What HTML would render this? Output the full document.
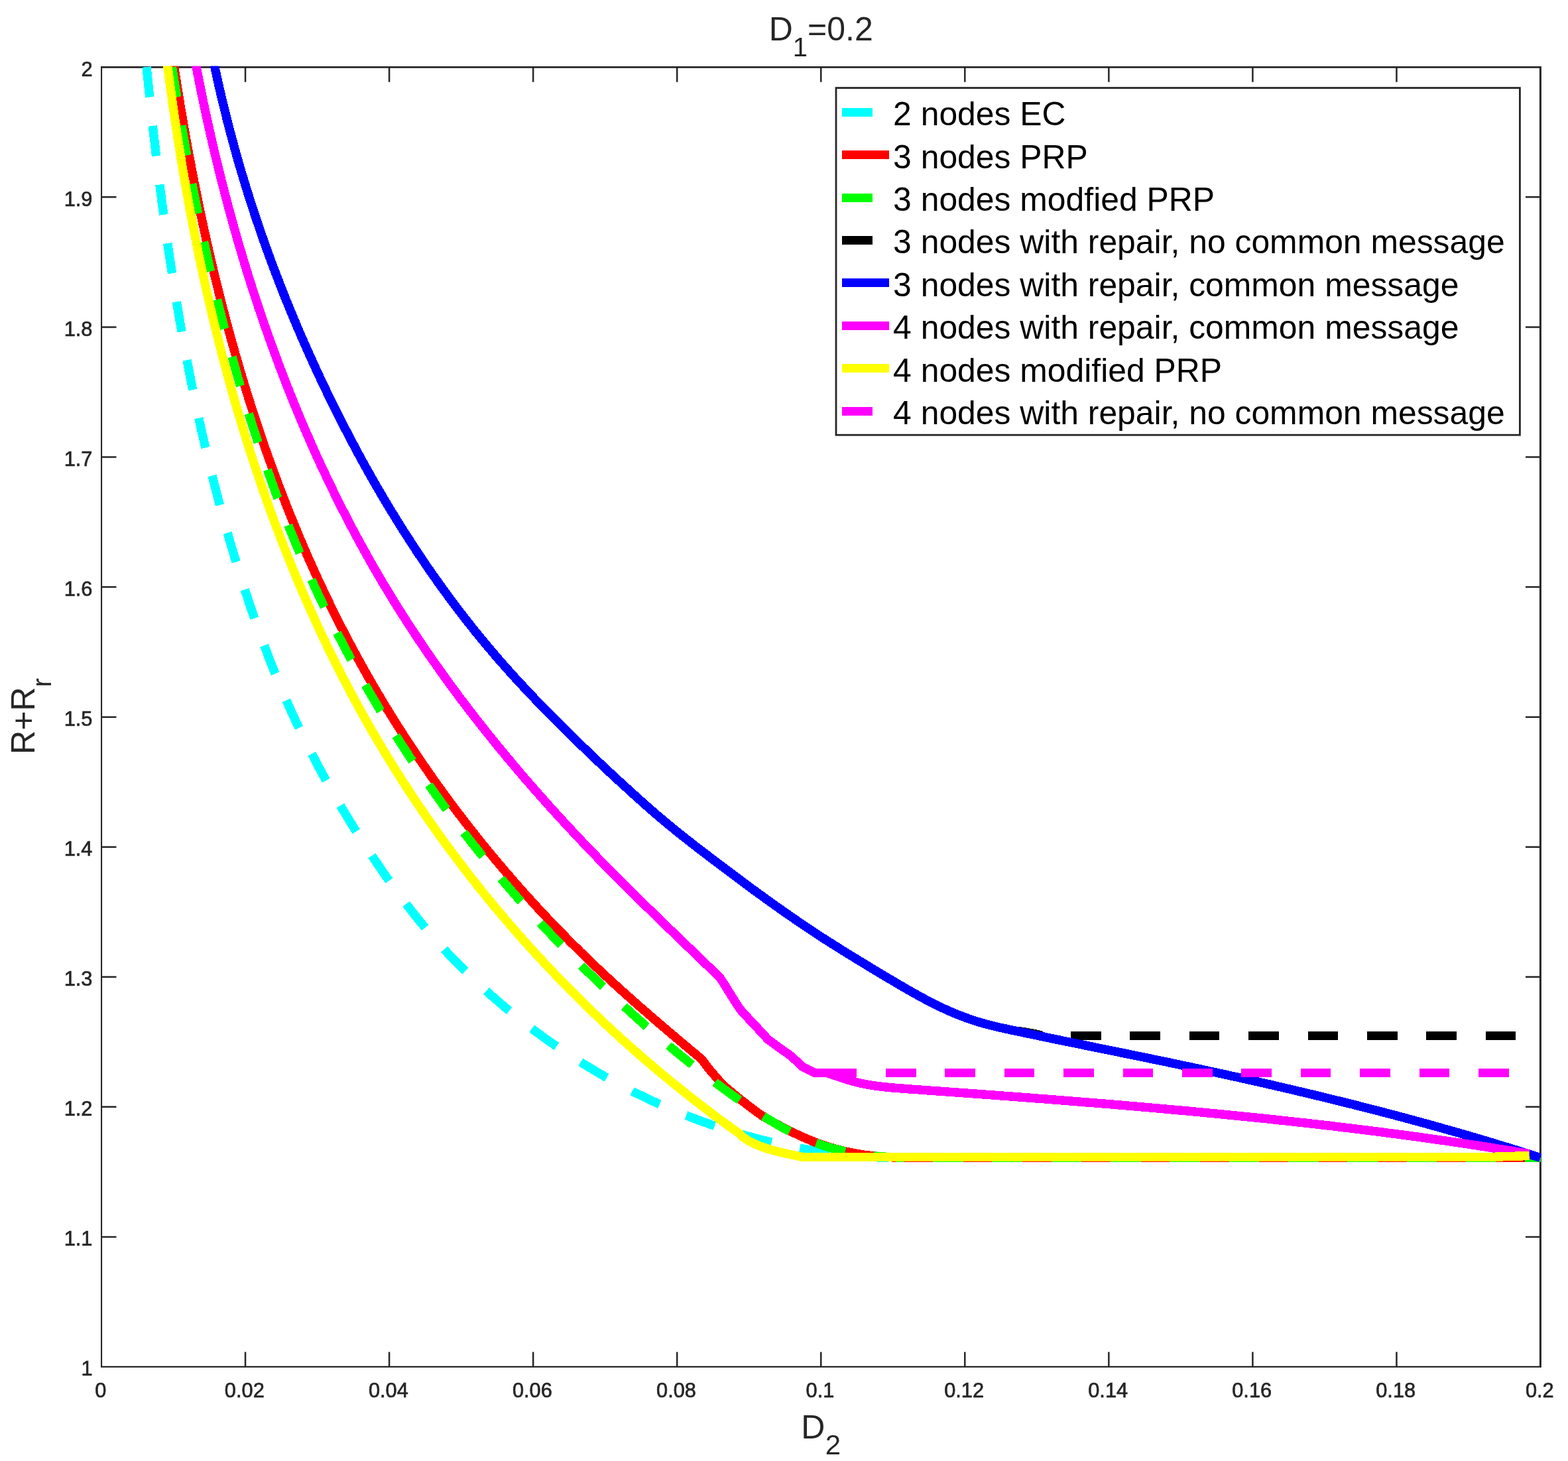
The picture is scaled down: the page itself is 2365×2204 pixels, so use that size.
<!DOCTYPE html>
<html lang="en"><head><meta charset="utf-8"><title>D1=0.2</title>
<style>html,body{margin:0;padding:0;background:#fff}body{width:2365px;height:2204px;overflow:hidden}svg{display:block}text{font-family:"Liberation Sans", Arial, Helvetica, sans-serif}.tk{font-size:30.8px;fill:#262626;stroke:#262626;stroke-width:0.7px}.lb{font-size:50px;fill:#262626}.lg{font-size:49.85px;fill:#000}.c{fill:none;stroke-width:13.4;stroke-linejoin:round;stroke-linecap:butt}</style></head><body>
<svg width="2365" height="2204" viewBox="0 0 2365 2204">
<rect x="0" y="0" width="2365" height="2204" fill="#ffffff"/>
<defs><clipPath id="cp"><rect x="152.0" y="99.8" width="2173.5" height="1963.7"/></clipPath></defs>
<g stroke="#262626" stroke-width="2.5" fill="none" stroke-linecap="butt">
<path stroke="none" fill="#262626" d="M152,100H2324.9V2063H152ZM154.1,102.7V2060.8H2321.9V102.7Z" fill-rule="evenodd"/>
<path d="M370.05,2062.00V2039.50M370.05,101.30V123.80M587.10,2062.00V2039.50M587.10,101.30V123.80M804.15,2062.00V2039.50M804.15,101.30V123.80M1021.20,2062.00V2039.50M1021.20,101.30V123.80M1238.25,2062.00V2039.50M1238.25,101.30V123.80M1455.30,2062.00V2039.50M1455.30,101.30V123.80M1672.35,2062.00V2039.50M1672.35,101.30V123.80M1889.40,2062.00V2039.50M1889.40,101.30V123.80M2106.45,2062.00V2039.50M2106.45,101.30V123.80M153.00,1865.93H175.50M2323.50,1865.93H2301.00M153.00,1669.86H175.50M2323.50,1669.86H2301.00M153.00,1473.79H175.50M2323.50,1473.79H2301.00M153.00,1277.72H175.50M2323.50,1277.72H2301.00M153.00,1081.65H175.50M2323.50,1081.65H2301.00M153.00,885.58H175.50M2323.50,885.58H2301.00M153.00,689.51H175.50M2323.50,689.51H2301.00M153.00,493.44H175.50M2323.50,493.44H2301.00M153.00,297.37H175.50M2323.50,297.37H2301.00"/>
</g>
<g clip-path="url(#cp)" shape-rendering="crispEdges">
<path class="c" shape-rendering="geometricPrecision" style="stroke-width:11.4px" stroke="#00ffff" stroke-dasharray="45.6 43.7" stroke-dashoffset="-40.0" d="M217.1,61.3 L221.1,101.1 L221.6,106.1 L222.1,111.1 L222.6,116.0 L223.1,121.0 L223.6,126.0 L224.1,131.0 L224.6,136.0 L225.1,140.9 L225.6,145.9 L226.2,150.9 L226.7,155.9 L227.2,160.9 L227.8,165.9 L228.3,170.8 L228.8,175.8 L229.4,180.8 L229.9,185.8 L230.5,190.7 L231.0,195.7 L231.6,200.7 L232.1,205.7 L232.7,210.6 L233.3,215.6 L233.9,220.6 L234.4,225.6 L235.0,230.5 L235.6,235.5 L236.2,240.5 L236.8,245.5 L237.4,250.4 L238.0,255.4 L238.6,260.4 L239.2,265.4 L239.8,270.3 L240.4,275.3 L241.1,280.3 L241.7,285.2 L242.3,290.2 L243.0,295.2 L243.6,300.1 L244.2,305.1 L244.9,310.1 L245.6,315.0 L246.2,320.0 L246.9,325.0 L247.6,329.9 L248.2,334.9 L248.9,339.8 L249.6,344.8 L250.3,349.8 L251.0,354.7 L251.7,359.7 L252.4,364.6 L253.1,369.6 L253.8,374.6 L254.6,379.5 L255.3,384.5 L256.0,389.4 L256.8,394.4 L257.5,399.3 L258.3,404.3 L259.0,409.2 L259.8,414.2 L260.6,419.1 L261.3,424.1 L262.1,429.0 L262.9,434.0 L263.7,438.9 L264.5,443.8 L265.3,448.8 L266.1,453.7 L266.9,458.7 L267.8,463.6 L268.6,468.6 L269.4,473.5 L270.3,478.4 L271.1,483.4 L272.0,488.3 L272.8,493.2 L273.7,498.2 L274.6,503.1 L275.5,508.0 L276.4,512.9 L277.2,517.9 L278.2,522.8 L279.1,527.7 L280.0,532.7 L280.9,537.6 L281.8,542.5 L282.8,547.4 L283.7,552.3 L284.7,557.2 L285.6,562.2 L286.6,567.1 L287.6,572.0 L288.5,576.9 L289.5,581.8 L290.5,586.7 L291.5,591.6 L292.5,596.5 L293.5,601.4 L294.6,606.3 L295.6,611.2 L296.6,616.1 L297.7,621.0 L298.7,625.9 L299.8,630.8 L300.9,635.7 L302.0,640.6 L303.0,645.5 L304.1,650.4 L305.2,655.3 L306.4,660.2 L307.5,665.0 L308.6,669.9 L309.7,674.8 L310.9,679.7 L312.0,684.5 L313.2,689.4 L314.4,694.3 L315.5,699.1 L316.7,704.0 L317.9,708.9 L319.1,713.7 L320.3,718.6 L321.5,723.5 L322.8,728.3 L324.0,733.2 L325.3,738.0 L326.5,742.9 L327.8,747.7 L329.1,752.6 L330.3,757.4 L331.6,762.2 L332.9,767.1 L334.2,771.9 L335.6,776.7 L336.9,781.6 L338.2,786.4 L339.6,791.2 L340.9,796.0 L342.3,800.9 L343.7,805.7 L345.0,810.5 L346.4,815.3 L347.8,820.1 L349.2,824.9 L350.7,829.7 L352.1,834.5 L353.5,839.3 L355.0,844.1 L356.4,848.9 L357.9,853.7 L359.4,858.5 L360.9,863.2 L362.4,868.0 L363.9,872.8 L365.4,877.6 L366.9,882.3 L368.5,887.1 L370.0,891.9 L371.6,896.6 L373.2,901.4 L374.7,906.1 L376.3,910.9 L377.9,915.6 L379.5,920.4 L381.2,925.1 L382.8,929.8 L384.4,934.6 L386.1,939.3 L387.8,944.0 L389.5,948.7 L391.1,953.4 L392.9,958.2 L394.6,962.9 L396.3,967.6 L398.0,972.3 L399.8,976.9 L401.6,981.6 L403.3,986.3 L405.1,991.0 L406.9,995.7 L408.8,1000.3 L410.6,1005.0 L412.4,1009.6 L414.3,1014.3 L416.2,1018.9 L418.1,1023.6 L420.0,1028.2 L421.9,1032.8 L423.8,1037.4 L425.8,1042.1 L427.7,1046.7 L429.7,1051.3 L431.7,1055.9 L433.7,1060.4 L435.7,1065.0 L437.8,1069.6 L439.8,1074.2 L441.9,1078.7 L444.0,1083.3 L446.1,1087.8 L448.2,1092.4 L450.4,1096.9 L452.5,1101.4 L454.7,1105.9 L456.9,1110.4 L459.1,1114.9 L461.3,1119.4 L463.6,1123.9 L465.8,1128.4 L468.1,1132.8 L470.4,1137.3 L472.6,1141.7 L475.0,1146.2 L477.3,1150.6 L479.6,1155.0 L482.0,1159.5 L484.4,1163.9 L486.8,1168.3 L489.2,1172.7 L491.6,1177.0 L494.0,1181.4 L496.5,1185.8 L498.9,1190.2 L501.4,1194.5 L503.9,1198.9 L506.4,1203.2 L508.9,1207.5 L511.4,1211.8 L514.0,1216.2 L516.5,1220.5 L519.1,1224.8 L521.7,1229.0 L524.3,1233.3 L526.9,1237.6 L529.5,1241.9 L532.2,1246.1 L534.8,1250.4 L537.5,1254.6 L540.2,1258.8 L542.9,1263.1 L545.6,1267.3 L548.3,1271.5 L551.0,1275.7 L553.7,1279.9 L556.5,1284.1 L559.3,1288.2 L562.0,1292.4 L564.8,1296.6 L567.6,1300.7 L570.4,1304.9 L573.3,1309.0 L576.1,1313.1 L578.9,1317.2 L581.8,1321.4 L584.7,1325.5 L587.6,1329.5 L590.5,1333.6 L593.4,1337.7 L596.3,1341.7 L599.3,1345.8 L602.3,1349.8 L605.3,1353.8 L608.3,1357.8 L611.3,1361.8 L614.3,1365.8 L617.4,1369.8 L620.4,1373.7 L623.5,1377.7 L626.7,1381.6 L629.8,1385.5 L632.9,1389.4 L636.1,1393.3 L639.3,1397.1 L642.5,1401.0 L645.8,1404.8 L649.0,1408.6 L652.3,1412.4 L655.6,1416.2 L658.9,1419.9 L662.2,1423.6 L665.6,1427.4 L669.0,1431.1 L672.4,1434.7 L675.8,1438.4 L679.2,1442.0 L682.7,1445.7 L686.2,1449.3 L689.7,1452.8 L693.2,1456.4 L696.7,1460.0 L700.3,1463.5 L703.8,1467.0 L707.4,1470.5 L711.0,1474.0 L714.6,1477.4 L718.3,1480.9 L721.9,1484.3 L725.6,1487.7 L729.3,1491.1 L733.0,1494.5 L736.7,1497.8 L740.5,1501.2 L744.2,1504.5 L748.0,1507.8 L751.8,1511.0 L755.6,1514.3 L759.4,1517.5 L763.2,1520.8 L767.1,1524.0 L771.0,1527.1 L774.8,1530.3 L778.7,1533.4 L782.7,1536.6 L786.6,1539.7 L790.5,1542.8 L794.5,1545.8 L798.5,1548.9 L802.5,1551.9 L806.5,1554.9 L810.5,1557.9 L814.5,1560.8 L818.6,1563.8 L822.6,1566.7 L826.7,1569.6 L830.8,1572.5 L834.9,1575.4 L839.0,1578.2 L843.2,1581.0 L847.3,1583.8 L851.5,1586.6 L855.7,1589.4 L859.9,1592.1 L864.1,1594.8 L868.3,1597.5 L872.5,1600.2 L876.8,1602.9 L881.0,1605.5 L885.3,1608.1 L889.6,1610.7 L893.9,1613.3 L898.2,1615.8 L902.5,1618.4 L906.8,1620.9 L911.2,1623.4 L915.5,1625.8 L919.9,1628.3 L924.3,1630.7 L928.7,1633.1 L933.1,1635.4 L937.5,1637.8 L942.0,1640.1 L946.4,1642.4 L950.9,1644.7 L955.3,1647.0 L959.8,1649.2 L964.3,1651.4 L968.8,1653.6 L973.3,1655.8 L977.8,1657.9 L982.4,1660.1 L986.9,1662.2 L991.5,1664.2 L996.1,1666.3 L1000.6,1668.3 L1005.2,1670.3 L1009.8,1672.3 L1014.4,1674.3 L1019.1,1676.2 L1023.7,1678.1 L1028.3,1680.0 L1033.0,1681.9 L1037.6,1683.7 L1042.3,1685.5 L1047.0,1687.3 L1051.7,1689.1 L1056.4,1690.8 L1061.1,1692.5 L1065.8,1694.2 L1070.5,1695.9 L1075.2,1697.5 L1080.0,1699.1 L1084.7,1700.7 L1089.5,1702.3 L1094.2,1703.8 L1099.0,1705.3 L1103.8,1706.8 L1108.6,1708.3 L1113.4,1709.7 L1118.2,1711.1 L1123.0,1712.5 L1127.8,1713.9 L1132.6,1715.2 L1137.5,1716.5 L1142.3,1717.8 L1147.2,1719.1 L1152.0,1720.3 L1156.9,1721.5 L1161.8,1722.7 L1166.6,1723.8 L1171.5,1724.9 L1176.4,1726.0 L1181.3,1727.1 L1186.2,1728.1 L1191.1,1729.1 L1196.0,1730.1 L1200.9,1731.1 L1205.8,1732.0 L1210.8,1732.9 L1215.7,1733.8 L1220.6,1734.6 L1225.6,1735.5 L1230.5,1736.2 L1235.5,1737.0 L1240.4,1737.7 L1245.4,1738.5 L1250.3,1739.1 L1255.3,1739.8 L1260.3,1740.4 L1265.3,1741.0 L1270.2,1741.6 L1275.2,1742.1 L1280.2,1742.6 L1285.2,1743.1 L1290.2,1743.5 L1295.2,1744.0 L1300.1,1744.4 L1305.1,1744.7 L1310.1,1745.0 L1315.1,1745.4 L1320.1,1745.6 L1325.1,1745.9 L1330.1,1746.1 L1362.0,1746.3 L2323.5,1746.3"/>
<path class="c" stroke="#00ffff" stroke-dasharray="45.6 43.7" stroke-dashoffset="-40.0" d="M217.1,61.3 L221.1,101.1 L221.6,106.1 L222.1,111.1 L222.6,116.0 L223.1,121.0 L223.6,126.0 L224.1,131.0 L224.6,136.0 L225.1,140.9 L225.6,145.9 L226.2,150.9 L226.7,155.9 L227.2,160.9 L227.8,165.9 L228.3,170.8 L228.8,175.8 L229.4,180.8 L229.9,185.8 L230.5,190.7 L231.0,195.7 L231.6,200.7 L232.1,205.7 L232.7,210.6 L233.3,215.6 L233.9,220.6 L234.4,225.6 L235.0,230.5 L235.6,235.5 L236.2,240.5 L236.8,245.5 L237.4,250.4 L238.0,255.4 L238.6,260.4 L239.2,265.4 L239.8,270.3 L240.4,275.3 L241.1,280.3 L241.7,285.2 L242.3,290.2 L243.0,295.2 L243.6,300.1 L244.2,305.1 L244.9,310.1 L245.6,315.0 L246.2,320.0 L246.9,325.0 L247.6,329.9 L248.2,334.9 L248.9,339.8 L249.6,344.8 L250.3,349.8 L251.0,354.7 L251.7,359.7 L252.4,364.6 L253.1,369.6 L253.8,374.6 L254.6,379.5 L255.3,384.5 L256.0,389.4 L256.8,394.4 L257.5,399.3 L258.3,404.3 L259.0,409.2 L259.8,414.2 L260.6,419.1 L261.3,424.1 L262.1,429.0 L262.9,434.0 L263.7,438.9 L264.5,443.8 L265.3,448.8 L266.1,453.7 L266.9,458.7 L267.8,463.6 L268.6,468.6 L269.4,473.5 L270.3,478.4 L271.1,483.4 L272.0,488.3 L272.8,493.2 L273.7,498.2 L274.6,503.1 L275.5,508.0 L276.4,512.9 L277.2,517.9 L278.2,522.8 L279.1,527.7 L280.0,532.7 L280.9,537.6 L281.8,542.5 L282.8,547.4 L283.7,552.3 L284.7,557.2 L285.6,562.2 L286.6,567.1 L287.6,572.0 L288.5,576.9 L289.5,581.8 L290.5,586.7 L291.5,591.6 L292.5,596.5 L293.5,601.4 L294.6,606.3 L295.6,611.2 L296.6,616.1 L297.7,621.0 L298.7,625.9 L299.8,630.8 L300.9,635.7 L302.0,640.6 L303.0,645.5 L304.1,650.4 L305.2,655.3 L306.4,660.2 L307.5,665.0 L308.6,669.9 L309.7,674.8 L310.9,679.7 L312.0,684.5 L313.2,689.4 L314.4,694.3 L315.5,699.1 L316.7,704.0 L317.9,708.9 L319.1,713.7 L320.3,718.6 L321.5,723.5 L322.8,728.3 L324.0,733.2 L325.3,738.0 L326.5,742.9 L327.8,747.7 L329.1,752.6 L330.3,757.4 L331.6,762.2 L332.9,767.1 L334.2,771.9 L335.6,776.7 L336.9,781.6 L338.2,786.4 L339.6,791.2 L340.9,796.0 L342.3,800.9 L343.7,805.7 L345.0,810.5 L346.4,815.3 L347.8,820.1 L349.2,824.9 L350.7,829.7 L352.1,834.5 L353.5,839.3 L355.0,844.1 L356.4,848.9 L357.9,853.7 L359.4,858.5 L360.9,863.2 L362.4,868.0 L363.9,872.8 L365.4,877.6 L366.9,882.3 L368.5,887.1 L370.0,891.9 L371.6,896.6 L373.2,901.4 L374.7,906.1 L376.3,910.9 L377.9,915.6 L379.5,920.4 L381.2,925.1 L382.8,929.8 L384.4,934.6 L386.1,939.3 L387.8,944.0 L389.5,948.7 L391.1,953.4 L392.9,958.2 L394.6,962.9 L396.3,967.6 L398.0,972.3 L399.8,976.9 L401.6,981.6 L403.3,986.3 L405.1,991.0 L406.9,995.7 L408.8,1000.3 L410.6,1005.0 L412.4,1009.6 L414.3,1014.3 L416.2,1018.9 L418.1,1023.6 L420.0,1028.2 L421.9,1032.8 L423.8,1037.4 L425.8,1042.1 L427.7,1046.7 L429.7,1051.3 L431.7,1055.9 L433.7,1060.4 L435.7,1065.0 L437.8,1069.6 L439.8,1074.2 L441.9,1078.7 L444.0,1083.3 L446.1,1087.8 L448.2,1092.4 L450.4,1096.9 L452.5,1101.4 L454.7,1105.9 L456.9,1110.4 L459.1,1114.9 L461.3,1119.4 L463.6,1123.9 L465.8,1128.4 L468.1,1132.8 L470.4,1137.3 L472.6,1141.7 L475.0,1146.2 L477.3,1150.6 L479.6,1155.0 L482.0,1159.5 L484.4,1163.9 L486.8,1168.3 L489.2,1172.7 L491.6,1177.0 L494.0,1181.4 L496.5,1185.8 L498.9,1190.2 L501.4,1194.5 L503.9,1198.9 L506.4,1203.2 L508.9,1207.5 L511.4,1211.8 L514.0,1216.2 L516.5,1220.5 L519.1,1224.8 L521.7,1229.0 L524.3,1233.3 L526.9,1237.6 L529.5,1241.9 L532.2,1246.1 L534.8,1250.4 L537.5,1254.6 L540.2,1258.8 L542.9,1263.1 L545.6,1267.3 L548.3,1271.5 L551.0,1275.7 L553.7,1279.9 L556.5,1284.1 L559.3,1288.2 L562.0,1292.4 L564.8,1296.6 L567.6,1300.7 L570.4,1304.9 L573.3,1309.0 L576.1,1313.1 L578.9,1317.2 L581.8,1321.4 L584.7,1325.5 L587.6,1329.5 L590.5,1333.6 L593.4,1337.7 L596.3,1341.7 L599.3,1345.8 L602.3,1349.8 L605.3,1353.8 L608.3,1357.8 L611.3,1361.8 L614.3,1365.8 L617.4,1369.8 L620.4,1373.7 L623.5,1377.7 L626.7,1381.6 L629.8,1385.5 L632.9,1389.4 L636.1,1393.3 L639.3,1397.1 L642.5,1401.0 L645.8,1404.8 L649.0,1408.6 L652.3,1412.4 L655.6,1416.2 L658.9,1419.9 L662.2,1423.6 L665.6,1427.4 L669.0,1431.1 L672.4,1434.7 L675.8,1438.4 L679.2,1442.0 L682.7,1445.7 L686.2,1449.3 L689.7,1452.8 L693.2,1456.4 L696.7,1460.0 L700.3,1463.5 L703.8,1467.0 L707.4,1470.5 L711.0,1474.0 L714.6,1477.4 L718.3,1480.9 L721.9,1484.3 L725.6,1487.7 L729.3,1491.1 L733.0,1494.5 L736.7,1497.8 L740.5,1501.2 L744.2,1504.5 L748.0,1507.8 L751.8,1511.0 L755.6,1514.3 L759.4,1517.5 L763.2,1520.8 L767.1,1524.0 L771.0,1527.1 L774.8,1530.3 L778.7,1533.4 L782.7,1536.6 L786.6,1539.7 L790.5,1542.8 L794.5,1545.8 L798.5,1548.9 L802.5,1551.9 L806.5,1554.9 L810.5,1557.9 L814.5,1560.8 L818.6,1563.8 L822.6,1566.7 L826.7,1569.6 L830.8,1572.5 L834.9,1575.4 L839.0,1578.2 L843.2,1581.0 L847.3,1583.8 L851.5,1586.6 L855.7,1589.4 L859.9,1592.1 L864.1,1594.8 L868.3,1597.5 L872.5,1600.2 L876.8,1602.9 L881.0,1605.5 L885.3,1608.1 L889.6,1610.7 L893.9,1613.3 L898.2,1615.8 L902.5,1618.4 L906.8,1620.9 L911.2,1623.4 L915.5,1625.8 L919.9,1628.3 L924.3,1630.7 L928.7,1633.1 L933.1,1635.4 L937.5,1637.8 L942.0,1640.1 L946.4,1642.4 L950.9,1644.7 L955.3,1647.0 L959.8,1649.2 L964.3,1651.4 L968.8,1653.6 L973.3,1655.8 L977.8,1657.9 L982.4,1660.1 L986.9,1662.2 L991.5,1664.2 L996.1,1666.3 L1000.6,1668.3 L1005.2,1670.3 L1009.8,1672.3 L1014.4,1674.3 L1019.1,1676.2 L1023.7,1678.1 L1028.3,1680.0 L1033.0,1681.9 L1037.6,1683.7 L1042.3,1685.5 L1047.0,1687.3 L1051.7,1689.1 L1056.4,1690.8 L1061.1,1692.5 L1065.8,1694.2 L1070.5,1695.9 L1075.2,1697.5 L1080.0,1699.1 L1084.7,1700.7 L1089.5,1702.3 L1094.2,1703.8 L1099.0,1705.3 L1103.8,1706.8 L1108.6,1708.3 L1113.4,1709.7 L1118.2,1711.1 L1123.0,1712.5 L1127.8,1713.9 L1132.6,1715.2 L1137.5,1716.5 L1142.3,1717.8 L1147.2,1719.1 L1152.0,1720.3 L1156.9,1721.5 L1161.8,1722.7 L1166.6,1723.8 L1171.5,1724.9 L1176.4,1726.0 L1181.3,1727.1 L1186.2,1728.1 L1191.1,1729.1 L1196.0,1730.1 L1200.9,1731.1 L1205.8,1732.0 L1210.8,1732.9 L1215.7,1733.8 L1220.6,1734.6 L1225.6,1735.5 L1230.5,1736.2 L1235.5,1737.0 L1240.4,1737.7 L1245.4,1738.5 L1250.3,1739.1 L1255.3,1739.8 L1260.3,1740.4 L1265.3,1741.0 L1270.2,1741.6 L1275.2,1742.1 L1280.2,1742.6 L1285.2,1743.1 L1290.2,1743.5 L1295.2,1744.0 L1300.1,1744.4 L1305.1,1744.7 L1310.1,1745.0 L1315.1,1745.4 L1320.1,1745.6 L1325.1,1745.9 L1330.1,1746.1 L1362.0,1746.3 L2323.5,1746.3"/>
<path class="c" shape-rendering="geometricPrecision" style="stroke-width:11.4px" stroke="#ff0000" d="M256.7,61.7 L262.8,101.2 L263.5,106.1 L264.3,111.1 L265.1,116.0 L265.8,121.0 L266.6,125.9 L267.4,130.9 L268.2,135.8 L269.0,140.7 L269.8,145.7 L270.6,150.6 L271.4,155.5 L272.2,160.5 L273.0,165.4 L273.9,170.3 L274.7,175.3 L275.5,180.2 L276.4,185.1 L277.2,190.1 L278.1,195.0 L279.0,199.9 L279.8,204.8 L280.7,209.8 L281.6,214.7 L282.5,219.6 L283.4,224.5 L284.3,229.5 L285.2,234.4 L286.1,239.3 L287.1,244.2 L288.0,249.1 L288.9,254.0 L289.9,259.0 L290.8,263.9 L291.8,268.8 L292.7,273.7 L293.7,278.6 L294.7,283.5 L295.7,288.4 L296.7,293.3 L297.6,298.2 L298.7,303.1 L299.7,308.0 L300.7,312.9 L301.7,317.8 L302.7,322.7 L303.8,327.6 L304.8,332.5 L305.9,337.4 L306.9,342.3 L308.0,347.1 L309.1,352.0 L310.2,356.9 L311.2,361.8 L312.3,366.7 L313.4,371.6 L314.6,376.4 L315.7,381.3 L316.8,386.2 L317.9,391.1 L319.1,395.9 L320.2,400.8 L321.4,405.7 L322.5,410.5 L323.7,415.4 L324.9,420.2 L326.1,425.1 L327.3,430.0 L328.5,434.8 L329.7,439.7 L330.9,444.5 L332.1,449.4 L333.4,454.2 L334.6,459.1 L335.9,463.9 L337.1,468.7 L338.4,473.6 L339.7,478.4 L341.0,483.3 L342.2,488.1 L343.5,492.9 L344.9,497.8 L346.2,502.6 L347.5,507.4 L348.8,512.2 L350.2,517.0 L351.5,521.9 L352.9,526.7 L354.2,531.5 L355.6,536.3 L357.0,541.1 L358.4,545.9 L359.8,550.7 L361.2,555.5 L362.6,560.3 L364.1,565.1 L365.5,569.9 L366.9,574.7 L368.4,579.5 L369.9,584.2 L371.3,589.0 L372.8,593.8 L374.3,598.6 L375.8,603.3 L377.3,608.1 L378.8,612.9 L380.4,617.6 L381.9,622.4 L383.5,627.2 L385.0,631.9 L386.6,636.7 L388.2,641.4 L389.7,646.2 L391.3,650.9 L392.9,655.6 L394.6,660.4 L396.2,665.1 L397.8,669.8 L399.4,674.6 L401.1,679.3 L402.8,684.0 L404.4,688.7 L406.1,693.4 L407.8,698.1 L409.5,702.8 L411.2,707.5 L412.9,712.2 L414.7,716.9 L416.4,721.6 L418.2,726.3 L419.9,731.0 L421.7,735.7 L423.5,740.3 L425.3,745.0 L427.1,749.7 L428.9,754.3 L430.7,759.0 L432.5,763.6 L434.4,768.3 L436.2,772.9 L438.1,777.6 L440.0,782.2 L441.9,786.9 L443.8,791.5 L445.7,796.1 L447.6,800.7 L449.5,805.3 L451.4,810.0 L453.4,814.6 L455.4,819.2 L457.3,823.8 L459.3,828.4 L461.3,832.9 L463.3,837.5 L465.3,842.1 L467.3,846.7 L469.4,851.2 L471.4,855.8 L473.5,860.4 L475.5,864.9 L477.6,869.5 L479.7,874.0 L481.8,878.6 L483.9,883.1 L486.1,887.6 L488.2,892.1 L490.3,896.7 L492.5,901.2 L494.7,905.7 L496.9,910.2 L499.0,914.7 L501.3,919.2 L503.5,923.7 L505.7,928.1 L507.9,932.6 L510.2,937.1 L512.4,941.5 L514.7,946.0 L517.0,950.4 L519.3,954.9 L521.6,959.3 L523.9,963.8 L526.3,968.2 L528.6,972.6 L531.0,977.0 L533.3,981.4 L535.7,985.8 L538.1,990.2 L540.5,994.6 L542.9,999.0 L545.3,1003.4 L547.8,1007.7 L550.2,1012.1 L552.7,1016.4 L555.1,1020.8 L557.6,1025.1 L560.1,1029.5 L562.6,1033.8 L565.2,1038.1 L567.7,1042.4 L570.2,1046.7 L572.8,1051.0 L575.3,1055.3 L577.9,1059.6 L580.5,1063.9 L583.1,1068.2 L585.7,1072.4 L588.3,1076.7 L591.0,1081.0 L593.6,1085.2 L596.3,1089.4 L598.9,1093.7 L601.6,1097.9 L604.3,1102.1 L607.0,1106.3 L609.7,1110.5 L612.5,1114.7 L615.2,1118.9 L617.9,1123.1 L620.7,1127.3 L623.5,1131.4 L626.2,1135.6 L629.0,1139.7 L631.8,1143.9 L634.6,1148.0 L637.5,1152.2 L640.3,1156.3 L643.2,1160.4 L646.0,1164.5 L648.9,1168.6 L651.7,1172.7 L654.6,1176.8 L657.5,1180.8 L660.4,1184.9 L663.4,1189.0 L666.3,1193.0 L669.2,1197.1 L672.2,1201.1 L675.2,1205.1 L678.1,1209.2 L681.1,1213.2 L684.1,1217.2 L687.1,1221.2 L690.1,1225.2 L693.1,1229.2 L696.2,1233.1 L699.2,1237.1 L702.3,1241.1 L705.4,1245.0 L708.4,1249.0 L711.5,1252.9 L714.6,1256.8 L717.7,1260.7 L720.8,1264.7 L724.0,1268.6 L727.1,1272.5 L730.3,1276.3 L733.4,1280.2 L736.6,1284.1 L739.8,1288.0 L743.0,1291.8 L746.2,1295.7 L749.4,1299.5 L752.6,1303.3 L755.8,1307.1 L759.1,1310.9 L762.3,1314.8 L765.6,1318.5 L768.8,1322.3 L772.1,1326.1 L775.4,1329.9 L778.7,1333.6 L782.0,1337.4 L785.3,1341.1 L788.6,1344.9 L792.0,1348.6 L795.3,1352.3 L798.7,1356.0 L802.1,1359.7 L805.4,1363.4 L808.8,1367.1 L812.2,1370.8 L815.6,1374.4 L819.0,1378.1 L822.5,1381.7 L825.9,1385.4 L829.3,1389.0 L832.8,1392.6 L836.2,1396.2 L839.7,1399.8 L843.2,1403.4 L846.7,1407.0 L850.2,1410.6 L853.7,1414.2 L857.2,1417.7 L860.7,1421.3 L864.3,1424.8 L867.8,1428.3 L871.4,1431.8 L874.9,1435.4 L878.5,1438.9 L882.1,1442.3 L885.7,1445.8 L889.3,1449.3 L892.9,1452.8 L896.5,1456.2 L900.1,1459.7 L903.8,1463.1 L907.4,1466.5 L911.1,1469.9 L914.7,1473.3 L918.4,1476.7 L922.1,1480.1 L925.8,1483.5 L929.5,1486.9 L933.2,1490.2 L936.9,1493.6 L940.6,1496.9 L944.3,1500.3 L948.1,1503.6 L951.8,1506.9 L955.5,1510.2 L959.3,1513.6 L963.1,1516.9 L966.8,1520.2 L970.6,1523.5 L974.4,1526.7 L978.1,1530.0 L981.9,1533.3 L985.7,1536.6 L989.5,1539.8 L993.3,1543.1 L997.1,1546.3 L1000.9,1549.6 L1004.7,1552.8 L1008.5,1556.1 L1012.3,1559.3 L1016.1,1562.5 L1020.0,1565.8 L1023.8,1569.0 L1027.6,1572.2 L1031.4,1575.4 L1035.3,1578.6 L1039.1,1581.9 L1042.9,1585.1 L1046.8,1588.3 L1050.6,1591.5 L1054.5,1594.7 L1058.3,1597.9 L1071.0,1614.6 L1087.9,1633.9 L1092.4,1638.4 L1116.9,1658.8 L1140.0,1676.5 L1152.0,1684.9 L1153.6,1685.4 L1157.9,1688.0 L1162.3,1690.5 L1166.7,1693.1 L1171.1,1695.5 L1175.6,1698.0 L1180.0,1700.4 L1184.5,1702.7 L1189.1,1705.0 L1193.6,1707.2 L1198.2,1709.4 L1202.8,1711.6 L1207.4,1713.7 L1212.1,1715.8 L1216.8,1717.9 L1221.5,1719.9 L1226.2,1721.8 L1231.0,1723.7 L1235.7,1725.5 L1240.5,1727.2 L1245.4,1728.8 L1250.2,1730.3 L1255.1,1731.7 L1260.0,1733.1 L1264.9,1734.4 L1269.8,1735.6 L1274.7,1736.8 L1279.7,1737.9 L1284.6,1738.9 L1289.6,1739.9 L1294.6,1740.8 L1299.6,1741.6 L1304.6,1742.4 L1309.6,1743.0 L1314.7,1743.6 L1319.7,1744.2 L1324.8,1744.6 L1329.8,1745.0 L1334.9,1745.4 L1340.0,1745.6 L1345.0,1745.8 L1350.1,1745.9 L1355.2,1745.9 L1360.2,1745.9 L1362.0,1746.3 L2323.5,1746.3"/>
<path class="c" stroke="#ff0000" d="M256.7,61.7 L262.8,101.2 L263.5,106.1 L264.3,111.1 L265.1,116.0 L265.8,121.0 L266.6,125.9 L267.4,130.9 L268.2,135.8 L269.0,140.7 L269.8,145.7 L270.6,150.6 L271.4,155.5 L272.2,160.5 L273.0,165.4 L273.9,170.3 L274.7,175.3 L275.5,180.2 L276.4,185.1 L277.2,190.1 L278.1,195.0 L279.0,199.9 L279.8,204.8 L280.7,209.8 L281.6,214.7 L282.5,219.6 L283.4,224.5 L284.3,229.5 L285.2,234.4 L286.1,239.3 L287.1,244.2 L288.0,249.1 L288.9,254.0 L289.9,259.0 L290.8,263.9 L291.8,268.8 L292.7,273.7 L293.7,278.6 L294.7,283.5 L295.7,288.4 L296.7,293.3 L297.6,298.2 L298.7,303.1 L299.7,308.0 L300.7,312.9 L301.7,317.8 L302.7,322.7 L303.8,327.6 L304.8,332.5 L305.9,337.4 L306.9,342.3 L308.0,347.1 L309.1,352.0 L310.2,356.9 L311.2,361.8 L312.3,366.7 L313.4,371.6 L314.6,376.4 L315.7,381.3 L316.8,386.2 L317.9,391.1 L319.1,395.9 L320.2,400.8 L321.4,405.7 L322.5,410.5 L323.7,415.4 L324.9,420.2 L326.1,425.1 L327.3,430.0 L328.5,434.8 L329.7,439.7 L330.9,444.5 L332.1,449.4 L333.4,454.2 L334.6,459.1 L335.9,463.9 L337.1,468.7 L338.4,473.6 L339.7,478.4 L341.0,483.3 L342.2,488.1 L343.5,492.9 L344.9,497.8 L346.2,502.6 L347.5,507.4 L348.8,512.2 L350.2,517.0 L351.5,521.9 L352.9,526.7 L354.2,531.5 L355.6,536.3 L357.0,541.1 L358.4,545.9 L359.8,550.7 L361.2,555.5 L362.6,560.3 L364.1,565.1 L365.5,569.9 L366.9,574.7 L368.4,579.5 L369.9,584.2 L371.3,589.0 L372.8,593.8 L374.3,598.6 L375.8,603.3 L377.3,608.1 L378.8,612.9 L380.4,617.6 L381.9,622.4 L383.5,627.2 L385.0,631.9 L386.6,636.7 L388.2,641.4 L389.7,646.2 L391.3,650.9 L392.9,655.6 L394.6,660.4 L396.2,665.1 L397.8,669.8 L399.4,674.6 L401.1,679.3 L402.8,684.0 L404.4,688.7 L406.1,693.4 L407.8,698.1 L409.5,702.8 L411.2,707.5 L412.9,712.2 L414.7,716.9 L416.4,721.6 L418.2,726.3 L419.9,731.0 L421.7,735.7 L423.5,740.3 L425.3,745.0 L427.1,749.7 L428.9,754.3 L430.7,759.0 L432.5,763.6 L434.4,768.3 L436.2,772.9 L438.1,777.6 L440.0,782.2 L441.9,786.9 L443.8,791.5 L445.7,796.1 L447.6,800.7 L449.5,805.3 L451.4,810.0 L453.4,814.6 L455.4,819.2 L457.3,823.8 L459.3,828.4 L461.3,832.9 L463.3,837.5 L465.3,842.1 L467.3,846.7 L469.4,851.2 L471.4,855.8 L473.5,860.4 L475.5,864.9 L477.6,869.5 L479.7,874.0 L481.8,878.6 L483.9,883.1 L486.1,887.6 L488.2,892.1 L490.3,896.7 L492.5,901.2 L494.7,905.7 L496.9,910.2 L499.0,914.7 L501.3,919.2 L503.5,923.7 L505.7,928.1 L507.9,932.6 L510.2,937.1 L512.4,941.5 L514.7,946.0 L517.0,950.4 L519.3,954.9 L521.6,959.3 L523.9,963.8 L526.3,968.2 L528.6,972.6 L531.0,977.0 L533.3,981.4 L535.7,985.8 L538.1,990.2 L540.5,994.6 L542.9,999.0 L545.3,1003.4 L547.8,1007.7 L550.2,1012.1 L552.7,1016.4 L555.1,1020.8 L557.6,1025.1 L560.1,1029.5 L562.6,1033.8 L565.2,1038.1 L567.7,1042.4 L570.2,1046.7 L572.8,1051.0 L575.3,1055.3 L577.9,1059.6 L580.5,1063.9 L583.1,1068.2 L585.7,1072.4 L588.3,1076.7 L591.0,1081.0 L593.6,1085.2 L596.3,1089.4 L598.9,1093.7 L601.6,1097.9 L604.3,1102.1 L607.0,1106.3 L609.7,1110.5 L612.5,1114.7 L615.2,1118.9 L617.9,1123.1 L620.7,1127.3 L623.5,1131.4 L626.2,1135.6 L629.0,1139.7 L631.8,1143.9 L634.6,1148.0 L637.5,1152.2 L640.3,1156.3 L643.2,1160.4 L646.0,1164.5 L648.9,1168.6 L651.7,1172.7 L654.6,1176.8 L657.5,1180.8 L660.4,1184.9 L663.4,1189.0 L666.3,1193.0 L669.2,1197.1 L672.2,1201.1 L675.2,1205.1 L678.1,1209.2 L681.1,1213.2 L684.1,1217.2 L687.1,1221.2 L690.1,1225.2 L693.1,1229.2 L696.2,1233.1 L699.2,1237.1 L702.3,1241.1 L705.4,1245.0 L708.4,1249.0 L711.5,1252.9 L714.6,1256.8 L717.7,1260.7 L720.8,1264.7 L724.0,1268.6 L727.1,1272.5 L730.3,1276.3 L733.4,1280.2 L736.6,1284.1 L739.8,1288.0 L743.0,1291.8 L746.2,1295.7 L749.4,1299.5 L752.6,1303.3 L755.8,1307.1 L759.1,1310.9 L762.3,1314.8 L765.6,1318.5 L768.8,1322.3 L772.1,1326.1 L775.4,1329.9 L778.7,1333.6 L782.0,1337.4 L785.3,1341.1 L788.6,1344.9 L792.0,1348.6 L795.3,1352.3 L798.7,1356.0 L802.1,1359.7 L805.4,1363.4 L808.8,1367.1 L812.2,1370.8 L815.6,1374.4 L819.0,1378.1 L822.5,1381.7 L825.9,1385.4 L829.3,1389.0 L832.8,1392.6 L836.2,1396.2 L839.7,1399.8 L843.2,1403.4 L846.7,1407.0 L850.2,1410.6 L853.7,1414.2 L857.2,1417.7 L860.7,1421.3 L864.3,1424.8 L867.8,1428.3 L871.4,1431.8 L874.9,1435.4 L878.5,1438.9 L882.1,1442.3 L885.7,1445.8 L889.3,1449.3 L892.9,1452.8 L896.5,1456.2 L900.1,1459.7 L903.8,1463.1 L907.4,1466.5 L911.1,1469.9 L914.7,1473.3 L918.4,1476.7 L922.1,1480.1 L925.8,1483.5 L929.5,1486.9 L933.2,1490.2 L936.9,1493.6 L940.6,1496.9 L944.3,1500.3 L948.1,1503.6 L951.8,1506.9 L955.5,1510.2 L959.3,1513.6 L963.1,1516.9 L966.8,1520.2 L970.6,1523.5 L974.4,1526.7 L978.1,1530.0 L981.9,1533.3 L985.7,1536.6 L989.5,1539.8 L993.3,1543.1 L997.1,1546.3 L1000.9,1549.6 L1004.7,1552.8 L1008.5,1556.1 L1012.3,1559.3 L1016.1,1562.5 L1020.0,1565.8 L1023.8,1569.0 L1027.6,1572.2 L1031.4,1575.4 L1035.3,1578.6 L1039.1,1581.9 L1042.9,1585.1 L1046.8,1588.3 L1050.6,1591.5 L1054.5,1594.7 L1058.3,1597.9 L1071.0,1614.6 L1087.9,1633.9 L1092.4,1638.4 L1116.9,1658.8 L1140.0,1676.5 L1152.0,1684.9 L1153.6,1685.4 L1157.9,1688.0 L1162.3,1690.5 L1166.7,1693.1 L1171.1,1695.5 L1175.6,1698.0 L1180.0,1700.4 L1184.5,1702.7 L1189.1,1705.0 L1193.6,1707.2 L1198.2,1709.4 L1202.8,1711.6 L1207.4,1713.7 L1212.1,1715.8 L1216.8,1717.9 L1221.5,1719.9 L1226.2,1721.8 L1231.0,1723.7 L1235.7,1725.5 L1240.5,1727.2 L1245.4,1728.8 L1250.2,1730.3 L1255.1,1731.7 L1260.0,1733.1 L1264.9,1734.4 L1269.8,1735.6 L1274.7,1736.8 L1279.7,1737.9 L1284.6,1738.9 L1289.6,1739.9 L1294.6,1740.8 L1299.6,1741.6 L1304.6,1742.4 L1309.6,1743.0 L1314.7,1743.6 L1319.7,1744.2 L1324.8,1744.6 L1329.8,1745.0 L1334.9,1745.4 L1340.0,1745.6 L1345.0,1745.8 L1350.1,1745.9 L1355.2,1745.9 L1360.2,1745.9 L1362.0,1746.3 L2323.5,1746.3"/>
<path class="c" shape-rendering="geometricPrecision" style="stroke-width:11.4px" stroke="#00ff00" stroke-dasharray="45.6 43.7" stroke-dashoffset="-40.0" d="M253.3,61.8 L259.5,101.3 L260.3,106.3 L261.1,111.2 L261.9,116.2 L262.6,121.1 L263.4,126.0 L264.2,131.0 L265.0,135.9 L265.8,140.9 L266.6,145.8 L267.4,150.7 L268.2,155.7 L269.0,160.6 L269.9,165.6 L270.7,170.5 L271.5,175.4 L272.3,180.4 L273.2,185.3 L274.0,190.2 L274.9,195.1 L275.7,200.1 L276.6,205.0 L277.5,209.9 L278.3,214.9 L279.2,219.8 L280.1,224.7 L281.0,229.6 L281.9,234.5 L282.8,239.5 L283.7,244.4 L284.6,249.3 L285.5,254.2 L286.4,259.1 L287.3,264.1 L288.3,269.0 L289.2,273.9 L290.1,278.8 L291.1,283.7 L292.0,288.6 L293.0,293.5 L294.0,298.4 L294.9,303.4 L295.9,308.3 L296.9,313.2 L297.9,318.1 L298.9,323.0 L299.9,327.9 L300.9,332.8 L301.9,337.7 L302.9,342.6 L304.0,347.5 L305.0,352.4 L306.1,357.3 L307.1,362.1 L308.2,367.0 L309.2,371.9 L310.3,376.8 L311.4,381.7 L312.4,386.6 L313.5,391.5 L314.6,396.3 L315.7,401.2 L316.8,406.1 L318.0,411.0 L319.1,415.9 L320.2,420.7 L321.4,425.6 L322.5,430.5 L323.7,435.3 L324.8,440.2 L326.0,445.1 L327.2,449.9 L328.4,454.8 L329.6,459.6 L330.8,464.5 L332.0,469.4 L333.2,474.2 L334.4,479.1 L335.6,483.9 L336.9,488.8 L338.1,493.6 L339.4,498.4 L340.6,503.3 L341.9,508.1 L343.2,513.0 L344.5,517.8 L345.8,522.6 L347.1,527.5 L348.4,532.3 L349.7,537.1 L351.1,541.9 L352.4,546.7 L353.7,551.6 L355.1,556.4 L356.5,561.2 L357.8,566.0 L359.2,570.8 L360.6,575.6 L362.0,580.4 L363.4,585.2 L364.8,590.0 L366.3,594.8 L367.7,599.6 L369.2,604.4 L370.6,609.2 L372.1,614.0 L373.6,618.7 L375.0,623.5 L376.5,628.3 L378.0,633.1 L379.5,637.8 L381.1,642.6 L382.6,647.4 L384.1,652.1 L385.7,656.9 L387.3,661.6 L388.8,666.4 L390.4,671.1 L392.0,675.9 L393.6,680.6 L395.2,685.3 L396.8,690.1 L398.5,694.8 L400.1,699.5 L401.7,704.3 L403.4,709.0 L405.1,713.7 L406.8,718.4 L408.5,723.1 L410.2,727.8 L411.9,732.5 L413.6,737.2 L415.3,741.9 L417.1,746.6 L418.8,751.3 L420.6,755.9 L422.4,760.6 L424.2,765.3 L426.0,770.0 L427.8,774.6 L429.6,779.3 L431.4,783.9 L433.3,788.6 L435.1,793.2 L437.0,797.9 L438.9,802.5 L440.8,807.1 L442.7,811.8 L444.6,816.4 L446.5,821.0 L448.4,825.6 L450.4,830.2 L452.3,834.8 L454.3,839.4 L456.3,844.0 L458.3,848.6 L460.3,853.2 L462.3,857.8 L464.3,862.4 L466.4,866.9 L468.4,871.5 L470.5,876.1 L472.6,880.6 L474.7,885.1 L476.8,889.7 L478.9,894.2 L481.0,898.8 L483.1,903.3 L485.3,907.8 L487.4,912.3 L489.6,916.8 L491.8,921.3 L494.0,925.8 L496.2,930.3 L498.4,934.8 L500.6,939.3 L502.9,943.7 L505.1,948.2 L507.4,952.7 L509.7,957.1 L512.0,961.6 L514.3,966.0 L516.6,970.4 L518.9,974.9 L521.3,979.3 L523.6,983.7 L526.0,988.1 L528.3,992.5 L530.7,996.9 L533.1,1001.3 L535.5,1005.7 L538.0,1010.1 L540.4,1014.4 L542.8,1018.8 L545.3,1023.2 L547.7,1027.5 L550.2,1031.9 L552.7,1036.2 L555.2,1040.5 L557.7,1044.9 L560.2,1049.2 L562.8,1053.5 L565.3,1057.8 L567.9,1062.1 L570.4,1066.4 L573.0,1070.7 L575.6,1075.0 L578.2,1079.3 L580.8,1083.5 L583.4,1087.8 L586.1,1092.0 L588.7,1096.3 L591.4,1100.5 L594.0,1104.8 L596.7,1109.0 L599.4,1113.2 L602.1,1117.4 L604.8,1121.6 L607.5,1125.8 L610.2,1130.0 L613.0,1134.2 L615.7,1138.4 L618.5,1142.6 L621.3,1146.7 L624.0,1150.9 L626.8,1155.0 L629.6,1159.2 L632.5,1163.3 L635.3,1167.4 L638.1,1171.6 L641.0,1175.7 L643.8,1179.8 L646.7,1183.9 L649.6,1188.0 L652.5,1192.1 L655.4,1196.1 L658.3,1200.2 L661.2,1204.3 L664.1,1208.3 L667.0,1212.4 L670.0,1216.4 L673.0,1220.4 L675.9,1224.5 L678.9,1228.5 L681.9,1232.5 L684.9,1236.5 L687.9,1240.5 L690.9,1244.5 L694.0,1248.5 L697.0,1252.4 L700.0,1256.4 L703.1,1260.4 L706.2,1264.3 L709.3,1268.3 L712.3,1272.2 L715.4,1276.1 L718.6,1280.0 L721.7,1283.9 L724.8,1287.9 L727.9,1291.7 L731.1,1295.6 L734.2,1299.5 L737.4,1303.4 L740.6,1307.3 L743.8,1311.1 L747.0,1315.0 L750.2,1318.8 L753.4,1322.6 L756.6,1326.5 L759.9,1330.3 L763.1,1334.1 L766.4,1337.9 L769.6,1341.7 L772.9,1345.4 L776.2,1349.2 L779.5,1353.0 L782.8,1356.8 L786.1,1360.5 L789.4,1364.2 L792.7,1368.0 L796.1,1371.7 L799.4,1375.4 L802.8,1379.1 L806.1,1382.8 L809.5,1386.5 L812.9,1390.2 L816.3,1393.9 L819.7,1397.5 L823.1,1401.2 L826.5,1404.9 L830.0,1408.5 L833.4,1412.1 L836.9,1415.8 L840.3,1419.4 L843.8,1423.0 L847.2,1426.6 L850.7,1430.2 L854.2,1433.8 L857.7,1437.3 L861.2,1440.9 L864.7,1444.5 L868.3,1448.0 L871.8,1451.5 L875.3,1455.1 L878.9,1458.6 L882.5,1462.1 L886.0,1465.6 L889.6,1469.1 L893.2,1472.6 L896.8,1476.1 L900.4,1479.6 L904.0,1483.1 L907.6,1486.5 L911.2,1490.0 L914.8,1493.4 L918.4,1496.9 L922.1,1500.3 L925.7,1503.7 L929.4,1507.1 L933.0,1510.6 L936.7,1514.0 L940.4,1517.3 L944.1,1520.7 L947.8,1524.1 L951.5,1527.5 L955.2,1530.8 L958.9,1534.2 L962.6,1537.5 L966.4,1540.8 L970.1,1544.2 L973.8,1547.5 L977.6,1550.8 L981.4,1554.1 L985.1,1557.4 L988.9,1560.6 L992.7,1563.9 L996.5,1567.1 L1000.3,1570.4 L1004.2,1573.6 L1008.0,1576.8 L1011.8,1580.0 L1015.7,1583.2 L1019.5,1586.4 L1023.4,1589.6 L1027.3,1592.8 L1031.1,1595.9 L1035.0,1599.1 L1038.9,1602.2 L1042.8,1605.3 L1046.8,1608.4 L1050.7,1611.5 L1054.6,1614.6 L1058.6,1617.7 L1062.5,1620.7 L1066.5,1623.8 L1070.5,1626.8 L1074.5,1629.8 L1078.5,1632.9 L1082.5,1635.8 L1086.5,1638.8 L1090.5,1641.8 L1094.6,1644.7 L1098.6,1647.7 L1102.7,1650.6 L1106.7,1653.5 L1110.8,1656.4 L1114.9,1659.3 L1119.0,1662.2 L1123.1,1665.0 L1127.2,1667.9 L1131.4,1670.7 L1135.5,1673.5 L1139.7,1676.2 L1143.9,1679.0 L1148.1,1681.7 L1152.3,1684.4 L1156.5,1687.0 L1160.8,1689.7 L1165.1,1692.2 L1169.4,1694.8 L1173.7,1697.3 L1178.1,1699.8 L1182.5,1702.2 L1186.9,1704.5 L1191.3,1706.8 L1195.8,1709.1 L1200.2,1711.3 L1204.8,1713.5 L1209.3,1715.5 L1213.9,1717.6 L1218.5,1719.5 L1223.1,1721.4 L1227.8,1723.2 L1232.5,1724.9 L1237.2,1726.6 L1242.0,1728.2 L1246.7,1729.7 L1251.5,1731.1 L1256.3,1732.5 L1261.2,1733.8 L1266.0,1735.0 L1270.9,1736.1 L1275.8,1737.2 L1280.7,1738.2 L1285.6,1739.2 L1290.5,1740.1 L1295.4,1740.9 L1300.4,1741.6 L1305.3,1742.3 L1310.3,1742.9 L1315.3,1743.5 L1320.3,1744.0 L1325.2,1744.4 L1330.2,1744.8 L1335.2,1745.2 L1340.2,1745.4 L1345.2,1745.6 L1350.2,1745.8 L1355.2,1745.9 L1360.2,1745.9 L1362.0,1746.3 L2323.5,1746.3"/>
<path class="c" stroke="#00ff00" stroke-dasharray="45.6 43.7" stroke-dashoffset="-40.0" d="M253.3,61.8 L259.5,101.3 L260.3,106.3 L261.1,111.2 L261.9,116.2 L262.6,121.1 L263.4,126.0 L264.2,131.0 L265.0,135.9 L265.8,140.9 L266.6,145.8 L267.4,150.7 L268.2,155.7 L269.0,160.6 L269.9,165.6 L270.7,170.5 L271.5,175.4 L272.3,180.4 L273.2,185.3 L274.0,190.2 L274.9,195.1 L275.7,200.1 L276.6,205.0 L277.5,209.9 L278.3,214.9 L279.2,219.8 L280.1,224.7 L281.0,229.6 L281.9,234.5 L282.8,239.5 L283.7,244.4 L284.6,249.3 L285.5,254.2 L286.4,259.1 L287.3,264.1 L288.3,269.0 L289.2,273.9 L290.1,278.8 L291.1,283.7 L292.0,288.6 L293.0,293.5 L294.0,298.4 L294.9,303.4 L295.9,308.3 L296.9,313.2 L297.9,318.1 L298.9,323.0 L299.9,327.9 L300.9,332.8 L301.9,337.7 L302.9,342.6 L304.0,347.5 L305.0,352.4 L306.1,357.3 L307.1,362.1 L308.2,367.0 L309.2,371.9 L310.3,376.8 L311.4,381.7 L312.4,386.6 L313.5,391.5 L314.6,396.3 L315.7,401.2 L316.8,406.1 L318.0,411.0 L319.1,415.9 L320.2,420.7 L321.4,425.6 L322.5,430.5 L323.7,435.3 L324.8,440.2 L326.0,445.1 L327.2,449.9 L328.4,454.8 L329.6,459.6 L330.8,464.5 L332.0,469.4 L333.2,474.2 L334.4,479.1 L335.6,483.9 L336.9,488.8 L338.1,493.6 L339.4,498.4 L340.6,503.3 L341.9,508.1 L343.2,513.0 L344.5,517.8 L345.8,522.6 L347.1,527.5 L348.4,532.3 L349.7,537.1 L351.1,541.9 L352.4,546.7 L353.7,551.6 L355.1,556.4 L356.5,561.2 L357.8,566.0 L359.2,570.8 L360.6,575.6 L362.0,580.4 L363.4,585.2 L364.8,590.0 L366.3,594.8 L367.7,599.6 L369.2,604.4 L370.6,609.2 L372.1,614.0 L373.6,618.7 L375.0,623.5 L376.5,628.3 L378.0,633.1 L379.5,637.8 L381.1,642.6 L382.6,647.4 L384.1,652.1 L385.7,656.9 L387.3,661.6 L388.8,666.4 L390.4,671.1 L392.0,675.9 L393.6,680.6 L395.2,685.3 L396.8,690.1 L398.5,694.8 L400.1,699.5 L401.7,704.3 L403.4,709.0 L405.1,713.7 L406.8,718.4 L408.5,723.1 L410.2,727.8 L411.9,732.5 L413.6,737.2 L415.3,741.9 L417.1,746.6 L418.8,751.3 L420.6,755.9 L422.4,760.6 L424.2,765.3 L426.0,770.0 L427.8,774.6 L429.6,779.3 L431.4,783.9 L433.3,788.6 L435.1,793.2 L437.0,797.9 L438.9,802.5 L440.8,807.1 L442.7,811.8 L444.6,816.4 L446.5,821.0 L448.4,825.6 L450.4,830.2 L452.3,834.8 L454.3,839.4 L456.3,844.0 L458.3,848.6 L460.3,853.2 L462.3,857.8 L464.3,862.4 L466.4,866.9 L468.4,871.5 L470.5,876.1 L472.6,880.6 L474.7,885.1 L476.8,889.7 L478.9,894.2 L481.0,898.8 L483.1,903.3 L485.3,907.8 L487.4,912.3 L489.6,916.8 L491.8,921.3 L494.0,925.8 L496.2,930.3 L498.4,934.8 L500.6,939.3 L502.9,943.7 L505.1,948.2 L507.4,952.7 L509.7,957.1 L512.0,961.6 L514.3,966.0 L516.6,970.4 L518.9,974.9 L521.3,979.3 L523.6,983.7 L526.0,988.1 L528.3,992.5 L530.7,996.9 L533.1,1001.3 L535.5,1005.7 L538.0,1010.1 L540.4,1014.4 L542.8,1018.8 L545.3,1023.2 L547.7,1027.5 L550.2,1031.9 L552.7,1036.2 L555.2,1040.5 L557.7,1044.9 L560.2,1049.2 L562.8,1053.5 L565.3,1057.8 L567.9,1062.1 L570.4,1066.4 L573.0,1070.7 L575.6,1075.0 L578.2,1079.3 L580.8,1083.5 L583.4,1087.8 L586.1,1092.0 L588.7,1096.3 L591.4,1100.5 L594.0,1104.8 L596.7,1109.0 L599.4,1113.2 L602.1,1117.4 L604.8,1121.6 L607.5,1125.8 L610.2,1130.0 L613.0,1134.2 L615.7,1138.4 L618.5,1142.6 L621.3,1146.7 L624.0,1150.9 L626.8,1155.0 L629.6,1159.2 L632.5,1163.3 L635.3,1167.4 L638.1,1171.6 L641.0,1175.7 L643.8,1179.8 L646.7,1183.9 L649.6,1188.0 L652.5,1192.1 L655.4,1196.1 L658.3,1200.2 L661.2,1204.3 L664.1,1208.3 L667.0,1212.4 L670.0,1216.4 L673.0,1220.4 L675.9,1224.5 L678.9,1228.5 L681.9,1232.5 L684.9,1236.5 L687.9,1240.5 L690.9,1244.5 L694.0,1248.5 L697.0,1252.4 L700.0,1256.4 L703.1,1260.4 L706.2,1264.3 L709.3,1268.3 L712.3,1272.2 L715.4,1276.1 L718.6,1280.0 L721.7,1283.9 L724.8,1287.9 L727.9,1291.7 L731.1,1295.6 L734.2,1299.5 L737.4,1303.4 L740.6,1307.3 L743.8,1311.1 L747.0,1315.0 L750.2,1318.8 L753.4,1322.6 L756.6,1326.5 L759.9,1330.3 L763.1,1334.1 L766.4,1337.9 L769.6,1341.7 L772.9,1345.4 L776.2,1349.2 L779.5,1353.0 L782.8,1356.8 L786.1,1360.5 L789.4,1364.2 L792.7,1368.0 L796.1,1371.7 L799.4,1375.4 L802.8,1379.1 L806.1,1382.8 L809.5,1386.5 L812.9,1390.2 L816.3,1393.9 L819.7,1397.5 L823.1,1401.2 L826.5,1404.9 L830.0,1408.5 L833.4,1412.1 L836.9,1415.8 L840.3,1419.4 L843.8,1423.0 L847.2,1426.6 L850.7,1430.2 L854.2,1433.8 L857.7,1437.3 L861.2,1440.9 L864.7,1444.5 L868.3,1448.0 L871.8,1451.5 L875.3,1455.1 L878.9,1458.6 L882.5,1462.1 L886.0,1465.6 L889.6,1469.1 L893.2,1472.6 L896.8,1476.1 L900.4,1479.6 L904.0,1483.1 L907.6,1486.5 L911.2,1490.0 L914.8,1493.4 L918.4,1496.9 L922.1,1500.3 L925.7,1503.7 L929.4,1507.1 L933.0,1510.6 L936.7,1514.0 L940.4,1517.3 L944.1,1520.7 L947.8,1524.1 L951.5,1527.5 L955.2,1530.8 L958.9,1534.2 L962.6,1537.5 L966.4,1540.8 L970.1,1544.2 L973.8,1547.5 L977.6,1550.8 L981.4,1554.1 L985.1,1557.4 L988.9,1560.6 L992.7,1563.9 L996.5,1567.1 L1000.3,1570.4 L1004.2,1573.6 L1008.0,1576.8 L1011.8,1580.0 L1015.7,1583.2 L1019.5,1586.4 L1023.4,1589.6 L1027.3,1592.8 L1031.1,1595.9 L1035.0,1599.1 L1038.9,1602.2 L1042.8,1605.3 L1046.8,1608.4 L1050.7,1611.5 L1054.6,1614.6 L1058.6,1617.7 L1062.5,1620.7 L1066.5,1623.8 L1070.5,1626.8 L1074.5,1629.8 L1078.5,1632.9 L1082.5,1635.8 L1086.5,1638.8 L1090.5,1641.8 L1094.6,1644.7 L1098.6,1647.7 L1102.7,1650.6 L1106.7,1653.5 L1110.8,1656.4 L1114.9,1659.3 L1119.0,1662.2 L1123.1,1665.0 L1127.2,1667.9 L1131.4,1670.7 L1135.5,1673.5 L1139.7,1676.2 L1143.9,1679.0 L1148.1,1681.7 L1152.3,1684.4 L1156.5,1687.0 L1160.8,1689.7 L1165.1,1692.2 L1169.4,1694.8 L1173.7,1697.3 L1178.1,1699.8 L1182.5,1702.2 L1186.9,1704.5 L1191.3,1706.8 L1195.8,1709.1 L1200.2,1711.3 L1204.8,1713.5 L1209.3,1715.5 L1213.9,1717.6 L1218.5,1719.5 L1223.1,1721.4 L1227.8,1723.2 L1232.5,1724.9 L1237.2,1726.6 L1242.0,1728.2 L1246.7,1729.7 L1251.5,1731.1 L1256.3,1732.5 L1261.2,1733.8 L1266.0,1735.0 L1270.9,1736.1 L1275.8,1737.2 L1280.7,1738.2 L1285.6,1739.2 L1290.5,1740.1 L1295.4,1740.9 L1300.4,1741.6 L1305.3,1742.3 L1310.3,1742.9 L1315.3,1743.5 L1320.3,1744.0 L1325.2,1744.4 L1330.2,1744.8 L1335.2,1745.2 L1340.2,1745.4 L1345.2,1745.6 L1350.2,1745.8 L1355.2,1745.9 L1360.2,1745.9 L1362.0,1746.3 L2323.5,1746.3"/>
<path class="c" stroke="#000000" stroke-dasharray="45.6 43.8" stroke-dashoffset="9.7" d="M1536,1555.8L1541,1556.2L1560,1559.4L1572,1562.4H2302"/>
<path class="c" shape-rendering="geometricPrecision" style="stroke-width:11.4px" stroke="#0000ff" d="M315.3,61.8 L323.9,100.9 L324.9,105.8 L326.0,110.7 L327.0,115.5 L328.1,120.4 L329.2,125.3 L330.3,130.2 L331.4,135.1 L332.5,140.0 L333.7,144.8 L334.8,149.7 L336.0,154.6 L337.2,159.4 L338.4,164.3 L339.6,169.2 L340.8,174.0 L342.0,178.9 L343.2,183.7 L344.5,188.6 L345.7,193.4 L347.0,198.2 L348.3,203.1 L349.6,207.9 L350.9,212.7 L352.2,217.6 L353.5,222.4 L354.9,227.2 L356.2,232.0 L357.6,236.9 L358.9,241.7 L360.3,246.5 L361.7,251.3 L363.1,256.1 L364.5,260.9 L366.0,265.7 L367.4,270.5 L368.9,275.3 L370.3,280.0 L371.8,284.8 L373.3,289.6 L374.8,294.4 L376.3,299.1 L377.8,303.9 L379.4,308.7 L380.9,313.4 L382.5,318.2 L384.0,322.9 L385.6,327.7 L387.2,332.4 L388.8,337.2 L390.4,341.9 L392.0,346.7 L393.7,351.4 L395.3,356.1 L397.0,360.8 L398.6,365.6 L400.3,370.3 L402.0,375.0 L403.7,379.7 L405.4,384.4 L407.1,389.1 L408.8,393.8 L410.6,398.5 L412.3,403.2 L414.1,407.9 L415.9,412.5 L417.7,417.2 L419.5,421.9 L421.3,426.5 L423.1,431.2 L424.9,435.9 L426.7,440.5 L428.6,445.2 L430.4,449.8 L432.3,454.5 L434.2,459.1 L436.1,463.7 L438.0,468.4 L439.9,473.0 L441.8,477.6 L443.7,482.2 L445.7,486.8 L447.6,491.4 L449.6,496.1 L451.6,500.7 L453.5,505.2 L455.5,509.8 L457.5,514.4 L459.5,519.0 L461.6,523.6 L463.6,528.2 L465.6,532.7 L467.7,537.3 L469.8,541.9 L471.8,546.4 L473.9,551.0 L476.0,555.5 L478.1,560.0 L480.2,564.6 L482.3,569.1 L484.5,573.6 L486.6,578.2 L488.8,582.7 L490.9,587.2 L493.1,591.7 L495.3,596.2 L497.5,600.7 L499.7,605.2 L501.9,609.7 L504.1,614.2 L506.3,618.7 L508.5,623.1 L510.8,627.6 L513.1,632.1 L515.3,636.5 L517.6,641.0 L519.9,645.4 L522.2,649.9 L524.5,654.3 L526.8,658.8 L529.1,663.2 L531.5,667.6 L533.8,672.0 L536.2,676.5 L538.5,680.9 L540.9,685.3 L543.3,689.7 L545.7,694.1 L548.1,698.4 L550.5,702.8 L553.0,707.2 L555.4,711.6 L557.9,715.9 L560.3,720.3 L562.8,724.6 L565.3,729.0 L567.8,733.3 L570.3,737.6 L572.8,742.0 L575.4,746.3 L577.9,750.6 L580.4,754.9 L583.0,759.2 L585.6,763.5 L588.2,767.8 L590.8,772.1 L593.4,776.3 L596.0,780.6 L598.6,784.8 L601.3,789.1 L603.9,793.3 L606.6,797.6 L609.3,801.8 L612.0,806.0 L614.7,810.2 L617.4,814.4 L620.1,818.6 L622.8,822.8 L625.6,827.0 L628.3,831.2 L631.1,835.3 L633.9,839.5 L636.7,843.7 L639.5,847.8 L642.3,851.9 L645.1,856.1 L648.0,860.2 L650.8,864.3 L653.7,868.4 L656.6,872.5 L659.5,876.6 L662.4,880.6 L665.3,884.7 L668.2,888.8 L671.2,892.8 L674.1,896.8 L677.1,900.9 L680.1,904.9 L683.1,908.9 L686.1,912.9 L689.1,916.9 L692.1,920.9 L695.2,924.9 L698.2,928.8 L701.3,932.8 L704.4,936.7 L707.5,940.6 L710.6,944.6 L713.7,948.5 L716.8,952.4 L720.0,956.3 L723.1,960.2 L726.3,964.0 L729.5,967.9 L732.7,971.7 L735.9,975.6 L739.1,979.4 L742.4,983.2 L745.6,987.0 L748.9,990.8 L752.1,994.6 L755.4,998.4 L758.7,1002.1 L762.0,1005.9 L765.4,1009.6 L768.7,1013.4 L772.1,1017.1 L775.4,1020.8 L778.8,1024.5 L782.2,1028.2 L785.6,1031.8 L789.0,1035.5 L792.4,1039.2 L795.8,1042.8 L799.3,1046.4 L802.7,1050.1 L806.2,1053.7 L809.6,1057.3 L813.1,1060.9 L816.6,1064.5 L820.1,1068.1 L823.6,1071.7 L827.1,1075.2 L830.6,1078.8 L834.1,1082.4 L837.7,1085.9 L841.2,1089.4 L844.7,1093.0 L848.3,1096.5 L851.8,1100.0 L855.4,1103.6 L859.0,1107.1 L862.5,1110.6 L866.1,1114.1 L869.7,1117.6 L873.3,1121.1 L876.9,1124.5 L880.5,1128.0 L884.1,1131.5 L887.7,1135.0 L891.3,1138.4 L894.9,1141.9 L898.5,1145.3 L902.2,1148.8 L905.8,1152.2 L909.4,1155.6 L913.1,1159.1 L916.7,1162.5 L920.4,1165.9 L924.1,1169.3 L927.7,1172.7 L931.4,1176.1 L935.1,1179.5 L938.8,1182.9 L942.5,1186.2 L946.2,1189.6 L949.9,1193.0 L953.6,1196.4 L957.3,1199.7 L961.0,1203.1 L964.7,1206.4 L968.5,1209.7 L972.2,1213.1 L976.0,1216.4 L979.7,1219.7 L983.5,1223.0 L987.3,1226.3 L991.0,1229.5 L994.8,1232.8 L998.7,1236.0 L1002.5,1239.2 L1006.3,1242.4 L1010.2,1245.6 L1014.1,1248.8 L1018.0,1251.9 L1021.9,1255.1 L1025.8,1258.2 L1029.7,1261.3 L1033.6,1264.4 L1037.5,1267.5 L1041.5,1270.6 L1045.4,1273.7 L1049.4,1276.8 L1053.3,1279.8 L1057.3,1282.9 L1061.3,1285.9 L1065.3,1288.9 L1069.2,1292.0 L1073.2,1295.0 L1077.2,1298.0 L1081.2,1301.1 L1085.2,1304.1 L1089.2,1307.1 L1093.2,1310.1 L1097.2,1313.1 L1101.2,1316.1 L1105.2,1319.1 L1109.2,1322.1 L1113.2,1325.1 L1117.2,1328.1 L1121.2,1331.1 L1125.2,1334.1 L1129.3,1337.1 L1133.3,1340.0 L1137.3,1343.0 L1141.4,1345.9 L1145.4,1348.9 L1149.5,1351.8 L1153.5,1354.8 L1157.6,1357.7 L1161.6,1360.6 L1165.7,1363.5 L1169.8,1366.4 L1173.9,1369.3 L1178.0,1372.2 L1182.0,1375.1 L1186.1,1377.9 L1190.3,1380.8 L1194.4,1383.6 L1198.5,1386.5 L1202.6,1389.3 L1206.8,1392.1 L1210.9,1394.9 L1215.0,1397.7 L1219.2,1400.5 L1223.4,1403.3 L1227.5,1406.1 L1231.7,1408.8 L1235.9,1411.5 L1240.1,1414.3 L1244.3,1417.0 L1248.5,1419.7 L1252.7,1422.4 L1257.0,1425.1 L1261.2,1427.7 L1265.4,1430.4 L1269.7,1433.1 L1273.9,1435.7 L1278.2,1438.4 L1282.4,1441.0 L1286.7,1443.6 L1291.0,1446.2 L1295.2,1448.8 L1299.5,1451.4 L1303.8,1454.0 L1308.0,1456.6 L1312.3,1459.2 L1316.6,1461.8 L1320.9,1464.4 L1325.2,1467.0 L1329.5,1469.5 L1333.8,1472.1 L1338.1,1474.7 L1342.4,1477.2 L1346.7,1479.8 L1351.0,1482.3 L1355.3,1484.9 L1359.6,1487.4 L1363.9,1489.9 L1368.3,1492.4 L1372.6,1494.9 L1377.0,1497.4 L1381.3,1499.8 L1385.7,1502.3 L1390.1,1504.7 L1394.5,1507.0 L1398.9,1509.4 L1403.4,1511.7 L1407.8,1513.9 L1412.3,1516.2 L1416.8,1518.3 L1421.3,1520.5 L1425.9,1522.6 L1430.4,1524.7 L1435.0,1526.7 L1439.6,1528.6 L1444.3,1530.5 L1448.9,1532.3 L1453.6,1534.1 L1458.3,1535.8 L1463.0,1537.5 L1467.8,1539.1 L1472.5,1540.6 L1477.3,1542.1 L1482.1,1543.5 L1486.9,1544.8 L1491.8,1546.1 L1496.6,1547.3 L1501.5,1548.5 L1506.4,1549.7 L1511.2,1550.8 L1516.1,1551.8 L1521.0,1552.9 L1525.9,1554.0 L1530.8,1555.0 L1535.7,1556.0 L1540.6,1557.1 L1545.5,1558.1 L1550.4,1559.1 L1555.3,1560.2 L1560.2,1561.2 L1565.1,1562.2 L1570.0,1563.2 L1574.9,1564.2 L1579.8,1565.3 L1584.7,1566.3 L1589.6,1567.3 L1594.5,1568.3 L1599.4,1569.3 L1604.3,1570.3 L1609.2,1571.3 L1614.1,1572.3 L1619.0,1573.3 L1623.9,1574.3 L1628.8,1575.3 L1633.7,1576.3 L1638.6,1577.3 L1643.5,1578.3 L1648.4,1579.3 L1653.3,1580.3 L1658.2,1581.3 L1663.1,1582.3 L1668.0,1583.3 L1672.9,1584.3 L1677.9,1585.3 L1682.8,1586.3 L1687.7,1587.3 L1692.6,1588.3 L1697.5,1589.3 L1702.4,1590.3 L1707.3,1591.3 L1712.2,1592.3 L1717.1,1593.3 L1722.0,1594.3 L1726.9,1595.3 L1731.8,1596.3 L1736.7,1597.4 L1741.6,1598.4 L1746.5,1599.4 L1751.4,1600.4 L1756.3,1601.4 L1761.2,1602.4 L1766.1,1603.5 L1771.0,1604.5 L1775.9,1605.5 L1780.8,1606.6 L1785.7,1607.6 L1790.6,1608.6 L1795.5,1609.7 L1800.3,1610.7 L1805.2,1611.8 L1810.1,1612.8 L1815.0,1613.9 L1819.9,1614.9 L1824.8,1616.0 L1829.7,1617.0 L1834.6,1618.1 L1839.5,1619.2 L1844.4,1620.2 L1849.3,1621.3 L1854.1,1622.4 L1859.0,1623.5 L1863.9,1624.5 L1868.8,1625.6 L1873.7,1626.7 L1878.6,1627.8 L1883.5,1628.9 L1888.3,1630.0 L1893.2,1631.1 L1898.1,1632.2 L1903.0,1633.3 L1907.9,1634.4 L1912.7,1635.5 L1917.6,1636.6 L1922.5,1637.8 L1927.4,1638.9 L1932.2,1640.0 L1937.1,1641.2 L1942.0,1642.3 L1946.9,1643.4 L1951.7,1644.6 L1956.6,1645.7 L1961.5,1646.9 L1966.4,1648.0 L1971.2,1649.2 L1976.1,1650.3 L1981.0,1651.5 L1985.8,1652.7 L1990.7,1653.9 L1995.5,1655.0 L2000.4,1656.2 L2005.3,1657.4 L2010.1,1658.6 L2015.0,1659.8 L2019.9,1661.0 L2024.7,1662.2 L2029.6,1663.4 L2034.4,1664.6 L2039.3,1665.8 L2044.1,1667.0 L2049.0,1668.3 L2053.8,1669.5 L2058.7,1670.7 L2063.5,1672.0 L2068.4,1673.2 L2073.2,1674.5 L2078.1,1675.7 L2082.9,1677.0 L2087.8,1678.2 L2092.6,1679.5 L2097.4,1680.8 L2102.3,1682.0 L2107.1,1683.3 L2111.9,1684.6 L2116.8,1685.9 L2121.6,1687.2 L2126.4,1688.5 L2131.3,1689.8 L2136.1,1691.1 L2140.9,1692.4 L2145.8,1693.8 L2150.6,1695.1 L2155.4,1696.4 L2160.2,1697.8 L2165.1,1699.1 L2169.9,1700.4 L2174.7,1701.8 L2179.5,1703.2 L2184.3,1704.5 L2189.1,1705.9 L2194.0,1707.3 L2198.8,1708.6 L2203.6,1710.0 L2208.4,1711.4 L2213.2,1712.8 L2218.0,1714.2 L2222.8,1715.6 L2227.6,1717.0 L2232.4,1718.4 L2237.2,1719.9 L2242.0,1721.3 L2246.8,1722.7 L2251.6,1724.2 L2256.4,1725.6 L2261.1,1727.1 L2265.9,1728.5 L2270.7,1730.0 L2275.5,1731.5 L2280.3,1733.0 L2285.1,1734.4 L2289.8,1735.9 L2294.6,1737.4 L2299.4,1738.9 L2304.2,1740.4 L2308.9,1742.0 L2313.7,1743.5 L2318.5,1745.0 L2323.2,1746.5"/>
<path class="c" stroke="#0000ff" d="M315.3,61.8 L323.9,100.9 L324.9,105.8 L326.0,110.7 L327.0,115.5 L328.1,120.4 L329.2,125.3 L330.3,130.2 L331.4,135.1 L332.5,140.0 L333.7,144.8 L334.8,149.7 L336.0,154.6 L337.2,159.4 L338.4,164.3 L339.6,169.2 L340.8,174.0 L342.0,178.9 L343.2,183.7 L344.5,188.6 L345.7,193.4 L347.0,198.2 L348.3,203.1 L349.6,207.9 L350.9,212.7 L352.2,217.6 L353.5,222.4 L354.9,227.2 L356.2,232.0 L357.6,236.9 L358.9,241.7 L360.3,246.5 L361.7,251.3 L363.1,256.1 L364.5,260.9 L366.0,265.7 L367.4,270.5 L368.9,275.3 L370.3,280.0 L371.8,284.8 L373.3,289.6 L374.8,294.4 L376.3,299.1 L377.8,303.9 L379.4,308.7 L380.9,313.4 L382.5,318.2 L384.0,322.9 L385.6,327.7 L387.2,332.4 L388.8,337.2 L390.4,341.9 L392.0,346.7 L393.7,351.4 L395.3,356.1 L397.0,360.8 L398.6,365.6 L400.3,370.3 L402.0,375.0 L403.7,379.7 L405.4,384.4 L407.1,389.1 L408.8,393.8 L410.6,398.5 L412.3,403.2 L414.1,407.9 L415.9,412.5 L417.7,417.2 L419.5,421.9 L421.3,426.5 L423.1,431.2 L424.9,435.9 L426.7,440.5 L428.6,445.2 L430.4,449.8 L432.3,454.5 L434.2,459.1 L436.1,463.7 L438.0,468.4 L439.9,473.0 L441.8,477.6 L443.7,482.2 L445.7,486.8 L447.6,491.4 L449.6,496.1 L451.6,500.7 L453.5,505.2 L455.5,509.8 L457.5,514.4 L459.5,519.0 L461.6,523.6 L463.6,528.2 L465.6,532.7 L467.7,537.3 L469.8,541.9 L471.8,546.4 L473.9,551.0 L476.0,555.5 L478.1,560.0 L480.2,564.6 L482.3,569.1 L484.5,573.6 L486.6,578.2 L488.8,582.7 L490.9,587.2 L493.1,591.7 L495.3,596.2 L497.5,600.7 L499.7,605.2 L501.9,609.7 L504.1,614.2 L506.3,618.7 L508.5,623.1 L510.8,627.6 L513.1,632.1 L515.3,636.5 L517.6,641.0 L519.9,645.4 L522.2,649.9 L524.5,654.3 L526.8,658.8 L529.1,663.2 L531.5,667.6 L533.8,672.0 L536.2,676.5 L538.5,680.9 L540.9,685.3 L543.3,689.7 L545.7,694.1 L548.1,698.4 L550.5,702.8 L553.0,707.2 L555.4,711.6 L557.9,715.9 L560.3,720.3 L562.8,724.6 L565.3,729.0 L567.8,733.3 L570.3,737.6 L572.8,742.0 L575.4,746.3 L577.9,750.6 L580.4,754.9 L583.0,759.2 L585.6,763.5 L588.2,767.8 L590.8,772.1 L593.4,776.3 L596.0,780.6 L598.6,784.8 L601.3,789.1 L603.9,793.3 L606.6,797.6 L609.3,801.8 L612.0,806.0 L614.7,810.2 L617.4,814.4 L620.1,818.6 L622.8,822.8 L625.6,827.0 L628.3,831.2 L631.1,835.3 L633.9,839.5 L636.7,843.7 L639.5,847.8 L642.3,851.9 L645.1,856.1 L648.0,860.2 L650.8,864.3 L653.7,868.4 L656.6,872.5 L659.5,876.6 L662.4,880.6 L665.3,884.7 L668.2,888.8 L671.2,892.8 L674.1,896.8 L677.1,900.9 L680.1,904.9 L683.1,908.9 L686.1,912.9 L689.1,916.9 L692.1,920.9 L695.2,924.9 L698.2,928.8 L701.3,932.8 L704.4,936.7 L707.5,940.6 L710.6,944.6 L713.7,948.5 L716.8,952.4 L720.0,956.3 L723.1,960.2 L726.3,964.0 L729.5,967.9 L732.7,971.7 L735.9,975.6 L739.1,979.4 L742.4,983.2 L745.6,987.0 L748.9,990.8 L752.1,994.6 L755.4,998.4 L758.7,1002.1 L762.0,1005.9 L765.4,1009.6 L768.7,1013.4 L772.1,1017.1 L775.4,1020.8 L778.8,1024.5 L782.2,1028.2 L785.6,1031.8 L789.0,1035.5 L792.4,1039.2 L795.8,1042.8 L799.3,1046.4 L802.7,1050.1 L806.2,1053.7 L809.6,1057.3 L813.1,1060.9 L816.6,1064.5 L820.1,1068.1 L823.6,1071.7 L827.1,1075.2 L830.6,1078.8 L834.1,1082.4 L837.7,1085.9 L841.2,1089.4 L844.7,1093.0 L848.3,1096.5 L851.8,1100.0 L855.4,1103.6 L859.0,1107.1 L862.5,1110.6 L866.1,1114.1 L869.7,1117.6 L873.3,1121.1 L876.9,1124.5 L880.5,1128.0 L884.1,1131.5 L887.7,1135.0 L891.3,1138.4 L894.9,1141.9 L898.5,1145.3 L902.2,1148.8 L905.8,1152.2 L909.4,1155.6 L913.1,1159.1 L916.7,1162.5 L920.4,1165.9 L924.1,1169.3 L927.7,1172.7 L931.4,1176.1 L935.1,1179.5 L938.8,1182.9 L942.5,1186.2 L946.2,1189.6 L949.9,1193.0 L953.6,1196.4 L957.3,1199.7 L961.0,1203.1 L964.7,1206.4 L968.5,1209.7 L972.2,1213.1 L976.0,1216.4 L979.7,1219.7 L983.5,1223.0 L987.3,1226.3 L991.0,1229.5 L994.8,1232.8 L998.7,1236.0 L1002.5,1239.2 L1006.3,1242.4 L1010.2,1245.6 L1014.1,1248.8 L1018.0,1251.9 L1021.9,1255.1 L1025.8,1258.2 L1029.7,1261.3 L1033.6,1264.4 L1037.5,1267.5 L1041.5,1270.6 L1045.4,1273.7 L1049.4,1276.8 L1053.3,1279.8 L1057.3,1282.9 L1061.3,1285.9 L1065.3,1288.9 L1069.2,1292.0 L1073.2,1295.0 L1077.2,1298.0 L1081.2,1301.1 L1085.2,1304.1 L1089.2,1307.1 L1093.2,1310.1 L1097.2,1313.1 L1101.2,1316.1 L1105.2,1319.1 L1109.2,1322.1 L1113.2,1325.1 L1117.2,1328.1 L1121.2,1331.1 L1125.2,1334.1 L1129.3,1337.1 L1133.3,1340.0 L1137.3,1343.0 L1141.4,1345.9 L1145.4,1348.9 L1149.5,1351.8 L1153.5,1354.8 L1157.6,1357.7 L1161.6,1360.6 L1165.7,1363.5 L1169.8,1366.4 L1173.9,1369.3 L1178.0,1372.2 L1182.0,1375.1 L1186.1,1377.9 L1190.3,1380.8 L1194.4,1383.6 L1198.5,1386.5 L1202.6,1389.3 L1206.8,1392.1 L1210.9,1394.9 L1215.0,1397.7 L1219.2,1400.5 L1223.4,1403.3 L1227.5,1406.1 L1231.7,1408.8 L1235.9,1411.5 L1240.1,1414.3 L1244.3,1417.0 L1248.5,1419.7 L1252.7,1422.4 L1257.0,1425.1 L1261.2,1427.7 L1265.4,1430.4 L1269.7,1433.1 L1273.9,1435.7 L1278.2,1438.4 L1282.4,1441.0 L1286.7,1443.6 L1291.0,1446.2 L1295.2,1448.8 L1299.5,1451.4 L1303.8,1454.0 L1308.0,1456.6 L1312.3,1459.2 L1316.6,1461.8 L1320.9,1464.4 L1325.2,1467.0 L1329.5,1469.5 L1333.8,1472.1 L1338.1,1474.7 L1342.4,1477.2 L1346.7,1479.8 L1351.0,1482.3 L1355.3,1484.9 L1359.6,1487.4 L1363.9,1489.9 L1368.3,1492.4 L1372.6,1494.9 L1377.0,1497.4 L1381.3,1499.8 L1385.7,1502.3 L1390.1,1504.7 L1394.5,1507.0 L1398.9,1509.4 L1403.4,1511.7 L1407.8,1513.9 L1412.3,1516.2 L1416.8,1518.3 L1421.3,1520.5 L1425.9,1522.6 L1430.4,1524.7 L1435.0,1526.7 L1439.6,1528.6 L1444.3,1530.5 L1448.9,1532.3 L1453.6,1534.1 L1458.3,1535.8 L1463.0,1537.5 L1467.8,1539.1 L1472.5,1540.6 L1477.3,1542.1 L1482.1,1543.5 L1486.9,1544.8 L1491.8,1546.1 L1496.6,1547.3 L1501.5,1548.5 L1506.4,1549.7 L1511.2,1550.8 L1516.1,1551.8 L1521.0,1552.9 L1525.9,1554.0 L1530.8,1555.0 L1535.7,1556.0 L1540.6,1557.1 L1545.5,1558.1 L1550.4,1559.1 L1555.3,1560.2 L1560.2,1561.2 L1565.1,1562.2 L1570.0,1563.2 L1574.9,1564.2 L1579.8,1565.3 L1584.7,1566.3 L1589.6,1567.3 L1594.5,1568.3 L1599.4,1569.3 L1604.3,1570.3 L1609.2,1571.3 L1614.1,1572.3 L1619.0,1573.3 L1623.9,1574.3 L1628.8,1575.3 L1633.7,1576.3 L1638.6,1577.3 L1643.5,1578.3 L1648.4,1579.3 L1653.3,1580.3 L1658.2,1581.3 L1663.1,1582.3 L1668.0,1583.3 L1672.9,1584.3 L1677.9,1585.3 L1682.8,1586.3 L1687.7,1587.3 L1692.6,1588.3 L1697.5,1589.3 L1702.4,1590.3 L1707.3,1591.3 L1712.2,1592.3 L1717.1,1593.3 L1722.0,1594.3 L1726.9,1595.3 L1731.8,1596.3 L1736.7,1597.4 L1741.6,1598.4 L1746.5,1599.4 L1751.4,1600.4 L1756.3,1601.4 L1761.2,1602.4 L1766.1,1603.5 L1771.0,1604.5 L1775.9,1605.5 L1780.8,1606.6 L1785.7,1607.6 L1790.6,1608.6 L1795.5,1609.7 L1800.3,1610.7 L1805.2,1611.8 L1810.1,1612.8 L1815.0,1613.9 L1819.9,1614.9 L1824.8,1616.0 L1829.7,1617.0 L1834.6,1618.1 L1839.5,1619.2 L1844.4,1620.2 L1849.3,1621.3 L1854.1,1622.4 L1859.0,1623.5 L1863.9,1624.5 L1868.8,1625.6 L1873.7,1626.7 L1878.6,1627.8 L1883.5,1628.9 L1888.3,1630.0 L1893.2,1631.1 L1898.1,1632.2 L1903.0,1633.3 L1907.9,1634.4 L1912.7,1635.5 L1917.6,1636.6 L1922.5,1637.8 L1927.4,1638.9 L1932.2,1640.0 L1937.1,1641.2 L1942.0,1642.3 L1946.9,1643.4 L1951.7,1644.6 L1956.6,1645.7 L1961.5,1646.9 L1966.4,1648.0 L1971.2,1649.2 L1976.1,1650.3 L1981.0,1651.5 L1985.8,1652.7 L1990.7,1653.9 L1995.5,1655.0 L2000.4,1656.2 L2005.3,1657.4 L2010.1,1658.6 L2015.0,1659.8 L2019.9,1661.0 L2024.7,1662.2 L2029.6,1663.4 L2034.4,1664.6 L2039.3,1665.8 L2044.1,1667.0 L2049.0,1668.3 L2053.8,1669.5 L2058.7,1670.7 L2063.5,1672.0 L2068.4,1673.2 L2073.2,1674.5 L2078.1,1675.7 L2082.9,1677.0 L2087.8,1678.2 L2092.6,1679.5 L2097.4,1680.8 L2102.3,1682.0 L2107.1,1683.3 L2111.9,1684.6 L2116.8,1685.9 L2121.6,1687.2 L2126.4,1688.5 L2131.3,1689.8 L2136.1,1691.1 L2140.9,1692.4 L2145.8,1693.8 L2150.6,1695.1 L2155.4,1696.4 L2160.2,1697.8 L2165.1,1699.1 L2169.9,1700.4 L2174.7,1701.8 L2179.5,1703.2 L2184.3,1704.5 L2189.1,1705.9 L2194.0,1707.3 L2198.8,1708.6 L2203.6,1710.0 L2208.4,1711.4 L2213.2,1712.8 L2218.0,1714.2 L2222.8,1715.6 L2227.6,1717.0 L2232.4,1718.4 L2237.2,1719.9 L2242.0,1721.3 L2246.8,1722.7 L2251.6,1724.2 L2256.4,1725.6 L2261.1,1727.1 L2265.9,1728.5 L2270.7,1730.0 L2275.5,1731.5 L2280.3,1733.0 L2285.1,1734.4 L2289.8,1735.9 L2294.6,1737.4 L2299.4,1738.9 L2304.2,1740.4 L2308.9,1742.0 L2313.7,1743.5 L2318.5,1745.0 L2323.2,1746.5"/>
<path class="c" shape-rendering="geometricPrecision" style="stroke-width:11.4px" stroke="#ff00ff" d="M288.6,62.2 L296.2,101.5 L297.2,106.4 L298.1,111.3 L299.1,116.2 L300.0,121.1 L301.0,126.0 L302.0,130.9 L303.0,135.9 L304.0,140.8 L305.0,145.7 L306.0,150.6 L307.1,155.5 L308.1,160.4 L309.1,165.3 L310.2,170.2 L311.2,175.0 L312.3,179.9 L313.4,184.8 L314.5,189.7 L315.6,194.6 L316.7,199.5 L317.8,204.4 L318.9,209.3 L320.0,214.1 L321.1,219.0 L322.3,223.9 L323.4,228.8 L324.6,233.6 L325.8,238.5 L326.9,243.4 L328.1,248.2 L329.3,253.1 L330.5,258.0 L331.7,262.8 L332.9,267.7 L334.1,272.5 L335.4,277.4 L336.6,282.2 L337.9,287.1 L339.1,291.9 L340.4,296.8 L341.7,301.6 L342.9,306.4 L344.2,311.3 L345.5,316.1 L346.9,320.9 L348.2,325.8 L349.5,330.6 L350.8,335.4 L352.2,340.3 L353.5,345.1 L354.9,349.9 L356.3,354.7 L357.6,359.5 L359.0,364.3 L360.4,369.1 L361.8,373.9 L363.3,378.7 L364.7,383.5 L366.1,388.3 L367.6,393.1 L369.0,397.9 L370.5,402.7 L371.9,407.5 L373.4,412.3 L374.9,417.1 L376.4,421.8 L377.9,426.6 L379.4,431.4 L381.0,436.2 L382.5,440.9 L384.0,445.7 L385.6,450.4 L387.2,455.2 L388.7,459.9 L390.3,464.7 L391.9,469.4 L393.5,474.2 L395.1,478.9 L396.7,483.7 L398.4,488.4 L400.0,493.1 L401.7,497.9 L403.3,502.6 L405.0,507.3 L406.7,512.0 L408.4,516.7 L410.1,521.4 L411.8,526.1 L413.5,530.8 L415.2,535.5 L417.0,540.2 L418.7,544.9 L420.5,549.6 L422.2,554.3 L424.0,559.0 L425.8,563.7 L427.6,568.3 L429.4,573.0 L431.2,577.7 L433.0,582.3 L434.9,587.0 L436.7,591.6 L438.6,596.3 L440.5,600.9 L442.3,605.6 L444.2,610.2 L446.1,614.8 L448.0,619.5 L450.0,624.1 L451.9,628.7 L453.8,633.3 L455.8,637.9 L457.7,642.5 L459.7,647.1 L461.7,651.7 L463.7,656.3 L465.7,660.9 L467.7,665.5 L469.7,670.1 L471.8,674.7 L473.8,679.2 L475.9,683.8 L477.9,688.4 L480.0,692.9 L482.1,697.5 L484.2,702.0 L486.3,706.5 L488.4,711.1 L490.6,715.6 L492.7,720.1 L494.9,724.7 L497.0,729.2 L499.2,733.7 L501.4,738.2 L503.6,742.7 L505.8,747.2 L508.0,751.7 L510.3,756.1 L512.5,760.6 L514.8,765.1 L517.0,769.6 L519.3,774.0 L521.6,778.5 L523.9,782.9 L526.2,787.4 L528.5,791.8 L530.8,796.2 L533.2,800.6 L535.5,805.1 L537.9,809.5 L540.3,813.9 L542.7,818.3 L545.1,822.7 L547.5,827.1 L549.9,831.4 L552.4,835.8 L554.8,840.2 L557.3,844.5 L559.7,848.9 L562.2,853.3 L564.7,857.6 L567.2,861.9 L569.7,866.3 L572.2,870.6 L574.8,874.9 L577.3,879.2 L579.9,883.5 L582.5,887.8 L585.1,892.1 L587.7,896.4 L590.3,900.6 L592.9,904.9 L595.5,909.2 L598.2,913.4 L600.8,917.7 L603.5,921.9 L606.2,926.1 L608.9,930.3 L611.6,934.6 L614.3,938.8 L617.0,943.0 L619.7,947.2 L622.5,951.3 L625.2,955.5 L628.0,959.7 L630.8,963.9 L633.6,968.0 L636.4,972.2 L639.2,976.3 L642.0,980.4 L644.8,984.6 L647.7,988.7 L650.5,992.8 L653.4,996.9 L656.3,1001.0 L659.2,1005.1 L662.1,1009.2 L665.0,1013.3 L667.9,1017.3 L670.8,1021.4 L673.7,1025.5 L676.7,1029.5 L679.6,1033.6 L682.6,1037.6 L685.6,1041.6 L688.6,1045.6 L691.5,1049.7 L694.5,1053.7 L697.6,1057.7 L700.6,1061.7 L703.6,1065.6 L706.6,1069.6 L709.7,1073.6 L712.8,1077.6 L715.8,1081.5 L718.9,1085.5 L722.0,1089.4 L725.1,1093.3 L728.2,1097.3 L731.3,1101.2 L734.4,1105.1 L737.5,1109.0 L740.7,1112.9 L743.8,1116.8 L747.0,1120.7 L750.1,1124.6 L753.3,1128.5 L756.5,1132.3 L759.7,1136.2 L762.8,1140.1 L766.0,1143.9 L769.3,1147.7 L772.5,1151.6 L775.7,1155.4 L778.9,1159.2 L782.2,1163.0 L785.4,1166.9 L788.7,1170.7 L791.9,1174.5 L795.2,1178.2 L798.5,1182.0 L801.8,1185.8 L805.1,1189.6 L808.4,1193.3 L811.7,1197.1 L815.0,1200.8 L818.3,1204.6 L821.7,1208.3 L825.0,1212.1 L828.3,1215.8 L831.7,1219.5 L835.1,1223.2 L838.4,1226.9 L841.8,1230.6 L845.2,1234.3 L848.6,1238.0 L852.0,1241.7 L855.4,1245.4 L858.8,1249.0 L862.2,1252.7 L865.6,1256.3 L869.0,1260.0 L872.5,1263.6 L875.9,1267.3 L879.3,1270.9 L882.8,1274.5 L886.2,1278.2 L889.7,1281.8 L893.2,1285.4 L896.7,1289.0 L900.1,1292.6 L903.6,1296.2 L907.1,1299.8 L910.6,1303.3 L914.1,1306.9 L917.6,1310.5 L921.2,1314.1 L924.7,1317.6 L928.2,1321.2 L931.7,1324.7 L935.3,1328.3 L938.8,1331.8 L942.4,1335.3 L945.9,1338.9 L949.5,1342.4 L953.0,1345.9 L956.6,1349.4 L960.1,1353.0 L963.7,1356.5 L967.3,1360.0 L970.9,1363.5 L974.4,1367.0 L978.0,1370.5 L981.6,1374.0 L985.2,1377.5 L988.8,1381.0 L992.4,1384.4 L996.0,1387.9 L999.6,1391.4 L1003.1,1394.9 L1006.7,1398.4 L1010.3,1401.9 L1013.9,1405.3 L1017.5,1408.8 L1021.2,1412.3 L1024.8,1415.8 L1028.4,1419.2 L1032.0,1422.7 L1035.6,1426.2 L1039.2,1429.7 L1042.8,1433.1 L1046.4,1436.6 L1050.0,1440.1 L1053.6,1443.6 L1057.2,1447.0 L1060.8,1450.5 L1064.4,1454.0 L1068.0,1457.5 L1071.6,1460.9 L1075.2,1464.4 L1078.8,1467.9 L1082.4,1471.4 L1086.0,1474.9 L1090.7,1482.0 L1102.0,1500.2 L1112.0,1516.2 L1119.0,1526.0 L1132.6,1540.3 L1145.0,1553.6 L1158.3,1568.0 L1176.9,1581.7 L1189.0,1590.1 L1193.2,1593.2 L1210.1,1608.9 L1229.0,1618.4 L1245.9,1618.4 L1250.7,1619.7 L1255.4,1621.3 L1260.2,1623.0 L1265.0,1624.5 L1269.7,1626.1 L1274.5,1627.6 L1279.3,1629.1 L1284.1,1630.5 L1289.0,1631.8 L1293.8,1633.1 L1298.7,1634.2 L1303.6,1635.2 L1308.6,1636.2 L1313.5,1637.0 L1318.5,1637.8 L1323.4,1638.5 L1328.4,1639.1 L1333.4,1639.7 L1338.4,1640.2 L1343.4,1640.7 L1348.4,1641.1 L1353.4,1641.5 L1358.4,1641.9 L1363.4,1642.3 L1368.4,1642.7 L1373.4,1643.0 L1378.4,1643.4 L1383.4,1643.7 L1388.4,1644.1 L1393.5,1644.4 L1398.5,1644.8 L1403.5,1645.2 L1408.5,1645.5 L1413.5,1645.9 L1418.5,1646.2 L1423.5,1646.6 L1428.5,1647.0 L1433.5,1647.3 L1438.5,1647.7 L1443.5,1648.0 L1448.5,1648.4 L1453.5,1648.8 L1458.5,1649.1 L1463.5,1649.5 L1468.5,1649.9 L1473.5,1650.2 L1478.6,1650.6 L1483.6,1651.0 L1488.6,1651.3 L1493.6,1651.7 L1498.6,1652.1 L1503.6,1652.4 L1508.6,1652.8 L1513.6,1653.2 L1518.6,1653.6 L1523.6,1653.9 L1528.6,1654.3 L1533.6,1654.7 L1538.6,1655.1 L1543.6,1655.4 L1548.6,1655.8 L1553.6,1656.2 L1558.6,1656.6 L1563.6,1657.0 L1568.6,1657.4 L1573.6,1657.7 L1578.7,1658.1 L1583.7,1658.5 L1588.7,1658.9 L1593.7,1659.3 L1598.7,1659.7 L1603.7,1660.1 L1608.7,1660.5 L1613.7,1660.9 L1618.7,1661.3 L1623.7,1661.7 L1628.7,1662.1 L1633.7,1662.5 L1638.7,1662.9 L1643.7,1663.3 L1648.7,1663.7 L1653.7,1664.1 L1658.7,1664.5 L1663.7,1664.9 L1668.7,1665.3 L1673.7,1665.7 L1678.7,1666.1 L1683.7,1666.6 L1688.7,1667.0 L1693.7,1667.4 L1698.7,1667.8 L1703.7,1668.3 L1708.7,1668.7 L1713.7,1669.1 L1718.7,1669.5 L1723.7,1670.0 L1728.7,1670.4 L1733.7,1670.8 L1738.7,1671.3 L1743.7,1671.7 L1748.7,1672.2 L1753.7,1672.6 L1758.7,1673.1 L1763.7,1673.5 L1768.7,1674.0 L1773.7,1674.4 L1778.7,1674.9 L1783.7,1675.3 L1788.7,1675.8 L1793.7,1676.2 L1798.7,1676.7 L1803.7,1677.2 L1808.7,1677.6 L1813.7,1678.1 L1818.7,1678.6 L1823.7,1679.1 L1828.7,1679.5 L1833.7,1680.0 L1838.7,1680.5 L1843.7,1681.0 L1848.7,1681.5 L1853.7,1682.0 L1858.7,1682.5 L1863.7,1683.0 L1868.6,1683.5 L1873.6,1684.0 L1878.6,1684.5 L1883.6,1685.0 L1888.6,1685.5 L1893.6,1686.0 L1898.6,1686.5 L1903.6,1687.0 L1908.6,1687.5 L1913.6,1688.1 L1918.6,1688.6 L1923.6,1689.1 L1928.6,1689.7 L1933.5,1690.2 L1938.5,1690.7 L1943.5,1691.3 L1948.5,1691.8 L1953.5,1692.4 L1958.5,1692.9 L1963.5,1693.5 L1968.5,1694.0 L1973.5,1694.6 L1978.4,1695.2 L1983.4,1695.7 L1988.4,1696.3 L1993.4,1696.9 L1998.4,1697.4 L2003.4,1698.0 L2008.4,1698.6 L2013.3,1699.2 L2018.3,1699.8 L2023.3,1700.4 L2028.3,1701.0 L2033.3,1701.6 L2038.3,1702.2 L2043.2,1702.8 L2048.2,1703.4 L2053.2,1704.0 L2058.2,1704.6 L2063.2,1705.2 L2068.1,1705.9 L2073.1,1706.5 L2078.1,1707.1 L2083.1,1707.8 L2088.1,1708.4 L2093.0,1709.1 L2098.0,1709.7 L2103.0,1710.4 L2108.0,1711.0 L2112.9,1711.7 L2117.9,1712.3 L2122.9,1713.0 L2127.9,1713.7 L2132.8,1714.3 L2137.8,1715.0 L2142.8,1715.7 L2147.8,1716.4 L2152.7,1717.1 L2157.7,1717.8 L2162.7,1718.5 L2167.6,1719.2 L2172.6,1719.9 L2177.6,1720.6 L2182.5,1721.3 L2187.5,1722.0 L2192.5,1722.8 L2197.4,1723.5 L2202.4,1724.2 L2207.4,1725.0 L2212.3,1725.7 L2217.3,1726.4 L2222.3,1727.2 L2227.2,1727.9 L2232.2,1728.7 L2237.2,1729.5 L2242.1,1730.2 L2247.1,1731.0 L2252.0,1731.8 L2257.0,1732.6 L2261.9,1733.4 L2266.9,1734.1 L2271.9,1734.9 L2276.8,1735.7 L2281.8,1736.5 L2286.7,1737.4 L2291.7,1738.2 L2296.6,1739.0 L2301.6,1739.8 L2306.5,1740.6"/>
<path class="c" stroke="#ff00ff" d="M288.6,62.2 L296.2,101.5 L297.2,106.4 L298.1,111.3 L299.1,116.2 L300.0,121.1 L301.0,126.0 L302.0,130.9 L303.0,135.9 L304.0,140.8 L305.0,145.7 L306.0,150.6 L307.1,155.5 L308.1,160.4 L309.1,165.3 L310.2,170.2 L311.2,175.0 L312.3,179.9 L313.4,184.8 L314.5,189.7 L315.6,194.6 L316.7,199.5 L317.8,204.4 L318.9,209.3 L320.0,214.1 L321.1,219.0 L322.3,223.9 L323.4,228.8 L324.6,233.6 L325.8,238.5 L326.9,243.4 L328.1,248.2 L329.3,253.1 L330.5,258.0 L331.7,262.8 L332.9,267.7 L334.1,272.5 L335.4,277.4 L336.6,282.2 L337.9,287.1 L339.1,291.9 L340.4,296.8 L341.7,301.6 L342.9,306.4 L344.2,311.3 L345.5,316.1 L346.9,320.9 L348.2,325.8 L349.5,330.6 L350.8,335.4 L352.2,340.3 L353.5,345.1 L354.9,349.9 L356.3,354.7 L357.6,359.5 L359.0,364.3 L360.4,369.1 L361.8,373.9 L363.3,378.7 L364.7,383.5 L366.1,388.3 L367.6,393.1 L369.0,397.9 L370.5,402.7 L371.9,407.5 L373.4,412.3 L374.9,417.1 L376.4,421.8 L377.9,426.6 L379.4,431.4 L381.0,436.2 L382.5,440.9 L384.0,445.7 L385.6,450.4 L387.2,455.2 L388.7,459.9 L390.3,464.7 L391.9,469.4 L393.5,474.2 L395.1,478.9 L396.7,483.7 L398.4,488.4 L400.0,493.1 L401.7,497.9 L403.3,502.6 L405.0,507.3 L406.7,512.0 L408.4,516.7 L410.1,521.4 L411.8,526.1 L413.5,530.8 L415.2,535.5 L417.0,540.2 L418.7,544.9 L420.5,549.6 L422.2,554.3 L424.0,559.0 L425.8,563.7 L427.6,568.3 L429.4,573.0 L431.2,577.7 L433.0,582.3 L434.9,587.0 L436.7,591.6 L438.6,596.3 L440.5,600.9 L442.3,605.6 L444.2,610.2 L446.1,614.8 L448.0,619.5 L450.0,624.1 L451.9,628.7 L453.8,633.3 L455.8,637.9 L457.7,642.5 L459.7,647.1 L461.7,651.7 L463.7,656.3 L465.7,660.9 L467.7,665.5 L469.7,670.1 L471.8,674.7 L473.8,679.2 L475.9,683.8 L477.9,688.4 L480.0,692.9 L482.1,697.5 L484.2,702.0 L486.3,706.5 L488.4,711.1 L490.6,715.6 L492.7,720.1 L494.9,724.7 L497.0,729.2 L499.2,733.7 L501.4,738.2 L503.6,742.7 L505.8,747.2 L508.0,751.7 L510.3,756.1 L512.5,760.6 L514.8,765.1 L517.0,769.6 L519.3,774.0 L521.6,778.5 L523.9,782.9 L526.2,787.4 L528.5,791.8 L530.8,796.2 L533.2,800.6 L535.5,805.1 L537.9,809.5 L540.3,813.9 L542.7,818.3 L545.1,822.7 L547.5,827.1 L549.9,831.4 L552.4,835.8 L554.8,840.2 L557.3,844.5 L559.7,848.9 L562.2,853.3 L564.7,857.6 L567.2,861.9 L569.7,866.3 L572.2,870.6 L574.8,874.9 L577.3,879.2 L579.9,883.5 L582.5,887.8 L585.1,892.1 L587.7,896.4 L590.3,900.6 L592.9,904.9 L595.5,909.2 L598.2,913.4 L600.8,917.7 L603.5,921.9 L606.2,926.1 L608.9,930.3 L611.6,934.6 L614.3,938.8 L617.0,943.0 L619.7,947.2 L622.5,951.3 L625.2,955.5 L628.0,959.7 L630.8,963.9 L633.6,968.0 L636.4,972.2 L639.2,976.3 L642.0,980.4 L644.8,984.6 L647.7,988.7 L650.5,992.8 L653.4,996.9 L656.3,1001.0 L659.2,1005.1 L662.1,1009.2 L665.0,1013.3 L667.9,1017.3 L670.8,1021.4 L673.7,1025.5 L676.7,1029.5 L679.6,1033.6 L682.6,1037.6 L685.6,1041.6 L688.6,1045.6 L691.5,1049.7 L694.5,1053.7 L697.6,1057.7 L700.6,1061.7 L703.6,1065.6 L706.6,1069.6 L709.7,1073.6 L712.8,1077.6 L715.8,1081.5 L718.9,1085.5 L722.0,1089.4 L725.1,1093.3 L728.2,1097.3 L731.3,1101.2 L734.4,1105.1 L737.5,1109.0 L740.7,1112.9 L743.8,1116.8 L747.0,1120.7 L750.1,1124.6 L753.3,1128.5 L756.5,1132.3 L759.7,1136.2 L762.8,1140.1 L766.0,1143.9 L769.3,1147.7 L772.5,1151.6 L775.7,1155.4 L778.9,1159.2 L782.2,1163.0 L785.4,1166.9 L788.7,1170.7 L791.9,1174.5 L795.2,1178.2 L798.5,1182.0 L801.8,1185.8 L805.1,1189.6 L808.4,1193.3 L811.7,1197.1 L815.0,1200.8 L818.3,1204.6 L821.7,1208.3 L825.0,1212.1 L828.3,1215.8 L831.7,1219.5 L835.1,1223.2 L838.4,1226.9 L841.8,1230.6 L845.2,1234.3 L848.6,1238.0 L852.0,1241.7 L855.4,1245.4 L858.8,1249.0 L862.2,1252.7 L865.6,1256.3 L869.0,1260.0 L872.5,1263.6 L875.9,1267.3 L879.3,1270.9 L882.8,1274.5 L886.2,1278.2 L889.7,1281.8 L893.2,1285.4 L896.7,1289.0 L900.1,1292.6 L903.6,1296.2 L907.1,1299.8 L910.6,1303.3 L914.1,1306.9 L917.6,1310.5 L921.2,1314.1 L924.7,1317.6 L928.2,1321.2 L931.7,1324.7 L935.3,1328.3 L938.8,1331.8 L942.4,1335.3 L945.9,1338.9 L949.5,1342.4 L953.0,1345.9 L956.6,1349.4 L960.1,1353.0 L963.7,1356.5 L967.3,1360.0 L970.9,1363.5 L974.4,1367.0 L978.0,1370.5 L981.6,1374.0 L985.2,1377.5 L988.8,1381.0 L992.4,1384.4 L996.0,1387.9 L999.6,1391.4 L1003.1,1394.9 L1006.7,1398.4 L1010.3,1401.9 L1013.9,1405.3 L1017.5,1408.8 L1021.2,1412.3 L1024.8,1415.8 L1028.4,1419.2 L1032.0,1422.7 L1035.6,1426.2 L1039.2,1429.7 L1042.8,1433.1 L1046.4,1436.6 L1050.0,1440.1 L1053.6,1443.6 L1057.2,1447.0 L1060.8,1450.5 L1064.4,1454.0 L1068.0,1457.5 L1071.6,1460.9 L1075.2,1464.4 L1078.8,1467.9 L1082.4,1471.4 L1086.0,1474.9 L1090.7,1482.0 L1102.0,1500.2 L1112.0,1516.2 L1119.0,1526.0 L1132.6,1540.3 L1145.0,1553.6 L1158.3,1568.0 L1176.9,1581.7 L1189.0,1590.1 L1193.2,1593.2 L1210.1,1608.9 L1229.0,1618.4 L1245.9,1618.4 L1250.7,1619.7 L1255.4,1621.3 L1260.2,1623.0 L1265.0,1624.5 L1269.7,1626.1 L1274.5,1627.6 L1279.3,1629.1 L1284.1,1630.5 L1289.0,1631.8 L1293.8,1633.1 L1298.7,1634.2 L1303.6,1635.2 L1308.6,1636.2 L1313.5,1637.0 L1318.5,1637.8 L1323.4,1638.5 L1328.4,1639.1 L1333.4,1639.7 L1338.4,1640.2 L1343.4,1640.7 L1348.4,1641.1 L1353.4,1641.5 L1358.4,1641.9 L1363.4,1642.3 L1368.4,1642.7 L1373.4,1643.0 L1378.4,1643.4 L1383.4,1643.7 L1388.4,1644.1 L1393.5,1644.4 L1398.5,1644.8 L1403.5,1645.2 L1408.5,1645.5 L1413.5,1645.9 L1418.5,1646.2 L1423.5,1646.6 L1428.5,1647.0 L1433.5,1647.3 L1438.5,1647.7 L1443.5,1648.0 L1448.5,1648.4 L1453.5,1648.8 L1458.5,1649.1 L1463.5,1649.5 L1468.5,1649.9 L1473.5,1650.2 L1478.6,1650.6 L1483.6,1651.0 L1488.6,1651.3 L1493.6,1651.7 L1498.6,1652.1 L1503.6,1652.4 L1508.6,1652.8 L1513.6,1653.2 L1518.6,1653.6 L1523.6,1653.9 L1528.6,1654.3 L1533.6,1654.7 L1538.6,1655.1 L1543.6,1655.4 L1548.6,1655.8 L1553.6,1656.2 L1558.6,1656.6 L1563.6,1657.0 L1568.6,1657.4 L1573.6,1657.7 L1578.7,1658.1 L1583.7,1658.5 L1588.7,1658.9 L1593.7,1659.3 L1598.7,1659.7 L1603.7,1660.1 L1608.7,1660.5 L1613.7,1660.9 L1618.7,1661.3 L1623.7,1661.7 L1628.7,1662.1 L1633.7,1662.5 L1638.7,1662.9 L1643.7,1663.3 L1648.7,1663.7 L1653.7,1664.1 L1658.7,1664.5 L1663.7,1664.9 L1668.7,1665.3 L1673.7,1665.7 L1678.7,1666.1 L1683.7,1666.6 L1688.7,1667.0 L1693.7,1667.4 L1698.7,1667.8 L1703.7,1668.3 L1708.7,1668.7 L1713.7,1669.1 L1718.7,1669.5 L1723.7,1670.0 L1728.7,1670.4 L1733.7,1670.8 L1738.7,1671.3 L1743.7,1671.7 L1748.7,1672.2 L1753.7,1672.6 L1758.7,1673.1 L1763.7,1673.5 L1768.7,1674.0 L1773.7,1674.4 L1778.7,1674.9 L1783.7,1675.3 L1788.7,1675.8 L1793.7,1676.2 L1798.7,1676.7 L1803.7,1677.2 L1808.7,1677.6 L1813.7,1678.1 L1818.7,1678.6 L1823.7,1679.1 L1828.7,1679.5 L1833.7,1680.0 L1838.7,1680.5 L1843.7,1681.0 L1848.7,1681.5 L1853.7,1682.0 L1858.7,1682.5 L1863.7,1683.0 L1868.6,1683.5 L1873.6,1684.0 L1878.6,1684.5 L1883.6,1685.0 L1888.6,1685.5 L1893.6,1686.0 L1898.6,1686.5 L1903.6,1687.0 L1908.6,1687.5 L1913.6,1688.1 L1918.6,1688.6 L1923.6,1689.1 L1928.6,1689.7 L1933.5,1690.2 L1938.5,1690.7 L1943.5,1691.3 L1948.5,1691.8 L1953.5,1692.4 L1958.5,1692.9 L1963.5,1693.5 L1968.5,1694.0 L1973.5,1694.6 L1978.4,1695.2 L1983.4,1695.7 L1988.4,1696.3 L1993.4,1696.9 L1998.4,1697.4 L2003.4,1698.0 L2008.4,1698.6 L2013.3,1699.2 L2018.3,1699.8 L2023.3,1700.4 L2028.3,1701.0 L2033.3,1701.6 L2038.3,1702.2 L2043.2,1702.8 L2048.2,1703.4 L2053.2,1704.0 L2058.2,1704.6 L2063.2,1705.2 L2068.1,1705.9 L2073.1,1706.5 L2078.1,1707.1 L2083.1,1707.8 L2088.1,1708.4 L2093.0,1709.1 L2098.0,1709.7 L2103.0,1710.4 L2108.0,1711.0 L2112.9,1711.7 L2117.9,1712.3 L2122.9,1713.0 L2127.9,1713.7 L2132.8,1714.3 L2137.8,1715.0 L2142.8,1715.7 L2147.8,1716.4 L2152.7,1717.1 L2157.7,1717.8 L2162.7,1718.5 L2167.6,1719.2 L2172.6,1719.9 L2177.6,1720.6 L2182.5,1721.3 L2187.5,1722.0 L2192.5,1722.8 L2197.4,1723.5 L2202.4,1724.2 L2207.4,1725.0 L2212.3,1725.7 L2217.3,1726.4 L2222.3,1727.2 L2227.2,1727.9 L2232.2,1728.7 L2237.2,1729.5 L2242.1,1730.2 L2247.1,1731.0 L2252.0,1731.8 L2257.0,1732.6 L2261.9,1733.4 L2266.9,1734.1 L2271.9,1734.9 L2276.8,1735.7 L2281.8,1736.5 L2286.7,1737.4 L2291.7,1738.2 L2296.6,1739.0 L2301.6,1739.8 L2306.5,1740.6"/>
<path class="c" shape-rendering="geometricPrecision" style="stroke-width:11.4px" stroke="#ffff00" d="M247.9,61.7 L253.0,101.4 L253.6,106.4 L254.3,111.3 L254.9,116.3 L255.6,121.3 L256.3,126.3 L256.9,131.2 L257.6,136.2 L258.3,141.2 L259.0,146.1 L259.6,151.1 L260.3,156.0 L261.0,161.0 L261.8,166.0 L262.5,170.9 L263.2,175.9 L263.9,180.8 L264.7,185.8 L265.4,190.8 L266.2,195.7 L266.9,200.7 L267.7,205.6 L268.4,210.6 L269.2,215.5 L270.0,220.5 L270.8,225.4 L271.6,230.4 L272.4,235.3 L273.2,240.3 L274.0,245.2 L274.8,250.2 L275.6,255.1 L276.5,260.0 L277.3,265.0 L278.2,269.9 L279.0,274.9 L279.9,279.8 L280.7,284.7 L281.6,289.7 L282.5,294.6 L283.4,299.5 L284.3,304.5 L285.2,309.4 L286.1,314.3 L287.0,319.2 L287.9,324.2 L288.9,329.1 L289.8,334.0 L290.8,338.9 L291.7,343.9 L292.7,348.8 L293.6,353.7 L294.6,358.6 L295.6,363.5 L296.6,368.4 L297.6,373.3 L298.6,378.2 L299.6,383.2 L300.6,388.1 L301.7,393.0 L302.7,397.9 L303.7,402.8 L304.8,407.7 L305.8,412.6 L306.9,417.5 L308.0,422.4 L309.1,427.3 L310.1,432.2 L311.2,437.0 L312.3,441.9 L313.5,446.8 L314.6,451.7 L315.7,456.6 L316.8,461.5 L318.0,466.3 L319.1,471.2 L320.3,476.1 L321.5,481.0 L322.6,485.8 L323.8,490.7 L325.0,495.6 L326.2,500.4 L327.4,505.3 L328.6,510.2 L329.9,515.0 L331.1,519.9 L332.3,524.7 L333.6,529.6 L334.8,534.4 L336.1,539.3 L337.4,544.1 L338.7,549.0 L340.0,553.8 L341.3,558.7 L342.6,563.5 L343.9,568.3 L345.2,573.2 L346.5,578.0 L347.9,582.8 L349.2,587.7 L350.6,592.5 L352.0,597.3 L353.3,602.1 L354.7,606.9 L356.1,611.7 L357.5,616.6 L358.9,621.4 L360.4,626.2 L361.8,631.0 L363.2,635.8 L364.7,640.6 L366.1,645.4 L367.6,650.2 L369.1,654.9 L370.6,659.7 L372.1,664.5 L373.6,669.3 L375.1,674.1 L376.6,678.9 L378.1,683.6 L379.7,688.4 L381.2,693.2 L382.8,697.9 L384.3,702.7 L385.9,707.4 L387.5,712.2 L389.1,716.9 L390.7,721.7 L392.3,726.4 L394.0,731.2 L395.6,735.9 L397.2,740.6 L398.9,745.4 L400.6,750.1 L402.2,754.8 L403.9,759.5 L405.6,764.3 L407.3,769.0 L409.0,773.7 L410.7,778.4 L412.5,783.1 L414.2,787.8 L416.0,792.5 L417.7,797.2 L419.5,801.9 L421.3,806.5 L423.1,811.2 L424.9,815.9 L426.7,820.6 L428.5,825.2 L430.4,829.9 L432.2,834.6 L434.1,839.2 L435.9,843.9 L437.8,848.5 L439.7,853.2 L441.6,857.8 L443.5,862.4 L445.4,867.1 L447.3,871.7 L449.3,876.3 L451.2,880.9 L453.2,885.5 L455.1,890.1 L457.1,894.8 L459.1,899.4 L461.1,903.9 L463.1,908.5 L465.2,913.1 L467.2,917.7 L469.2,922.3 L471.3,926.8 L473.4,931.4 L475.4,936.0 L477.5,940.5 L479.6,945.1 L481.7,949.6 L483.8,954.2 L486.0,958.7 L488.1,963.2 L490.3,967.8 L492.4,972.3 L494.6,976.8 L496.8,981.3 L499.0,985.8 L501.2,990.3 L503.4,994.8 L505.7,999.3 L507.9,1003.8 L510.2,1008.2 L512.4,1012.7 L514.7,1017.2 L517.0,1021.6 L519.3,1026.1 L521.6,1030.5 L523.9,1035.0 L526.2,1039.4 L528.6,1043.8 L530.9,1048.3 L533.3,1052.7 L535.7,1057.1 L538.1,1061.5 L540.5,1065.9 L542.9,1070.3 L545.3,1074.7 L547.8,1079.1 L550.2,1083.4 L552.7,1087.8 L555.1,1092.1 L557.6,1096.5 L560.1,1100.8 L562.6,1105.2 L565.1,1109.5 L567.7,1113.8 L570.2,1118.2 L572.8,1122.5 L575.3,1126.8 L577.9,1131.1 L580.5,1135.4 L583.1,1139.7 L585.7,1143.9 L588.3,1148.2 L591.0,1152.5 L593.6,1156.7 L596.3,1161.0 L598.9,1165.2 L601.6,1169.5 L604.3,1173.7 L607.0,1177.9 L609.7,1182.1 L612.4,1186.3 L615.2,1190.5 L617.9,1194.7 L620.7,1198.9 L623.4,1203.1 L626.2,1207.2 L629.0,1211.4 L631.8,1215.6 L634.6,1219.7 L637.4,1223.9 L640.3,1228.0 L643.1,1232.1 L646.0,1236.2 L648.8,1240.3 L651.7,1244.4 L654.6,1248.5 L657.5,1252.6 L660.4,1256.7 L663.3,1260.8 L666.3,1264.8 L669.2,1268.9 L672.2,1273.0 L675.1,1277.0 L678.1,1281.0 L681.1,1285.1 L684.1,1289.1 L687.1,1293.1 L690.1,1297.1 L693.1,1301.1 L696.2,1305.1 L699.2,1309.1 L702.3,1313.0 L705.3,1317.0 L708.4,1320.9 L711.5,1324.9 L714.6,1328.8 L717.7,1332.8 L720.8,1336.7 L723.9,1340.6 L727.1,1344.5 L730.2,1348.4 L733.4,1352.3 L736.6,1356.2 L739.7,1360.0 L742.9,1363.9 L746.1,1367.8 L749.3,1371.6 L752.6,1375.5 L755.8,1379.3 L759.0,1383.1 L762.3,1386.9 L765.5,1390.7 L768.8,1394.5 L772.1,1398.3 L775.4,1402.1 L778.7,1405.9 L782.0,1409.7 L785.3,1413.4 L788.6,1417.2 L791.9,1420.9 L795.3,1424.6 L798.6,1428.4 L802.0,1432.1 L805.4,1435.8 L808.8,1439.5 L812.2,1443.2 L815.6,1446.8 L819.0,1450.5 L822.4,1454.2 L825.8,1457.8 L829.3,1461.5 L832.7,1465.1 L836.2,1468.7 L839.6,1472.3 L843.1,1475.9 L846.6,1479.5 L850.1,1483.1 L853.6,1486.7 L857.1,1490.3 L860.7,1493.9 L864.2,1497.4 L867.7,1501.0 L871.3,1504.5 L874.8,1508.0 L878.4,1511.5 L882.0,1515.0 L885.6,1518.5 L889.2,1522.0 L892.8,1525.5 L896.4,1529.0 L900.0,1532.4 L903.6,1535.9 L907.3,1539.3 L910.9,1542.8 L914.6,1546.2 L918.3,1549.6 L921.9,1553.0 L925.6,1556.4 L929.3,1559.8 L933.0,1563.2 L936.7,1566.6 L940.4,1569.9 L944.2,1573.3 L947.9,1576.6 L951.6,1579.9 L955.4,1583.3 L959.2,1586.6 L962.9,1589.9 L966.7,1593.2 L970.5,1596.5 L974.3,1599.7 L978.1,1603.0 L981.9,1606.2 L985.7,1609.5 L989.5,1612.7 L993.4,1615.9 L997.2,1619.2 L1001.1,1622.4 L1004.9,1625.6 L1008.8,1628.7 L1012.7,1631.9 L1016.6,1635.1 L1020.5,1638.2 L1024.4,1641.4 L1028.3,1644.5 L1032.2,1647.6 L1036.1,1650.8 L1040.1,1653.9 L1044.0,1657.0 L1047.9,1660.0 L1051.9,1663.1 L1055.9,1666.2 L1059.8,1669.2 L1063.8,1672.3 L1067.8,1675.3 L1071.8,1678.3 L1075.8,1681.4 L1079.8,1684.4 L1083.8,1687.4 L1087.9,1690.3 L1091.9,1693.3 L1095.9,1696.3 L1100.0,1699.2 L1104.0,1702.2 L1108.1,1705.1 L1112.2,1708.0 L1116.3,1710.9 L1119.4,1714.6 L1123.7,1717.6 L1128.1,1720.3 L1132.7,1722.8 L1137.3,1725.1 L1142.0,1727.2 L1146.8,1729.2 L1151.7,1730.9 L1156.6,1732.6 L1161.5,1734.1 L1166.5,1735.5 L1171.5,1736.8 L1176.5,1738.1 L1181.6,1739.2 L1186.6,1740.4 L1191.7,1741.5 L1196.8,1742.5 L1201.8,1743.6 L1206.9,1744.7 L1212.0,1745.8 L2240.0,1745.7 L2306.5,1743.5"/>
<path class="c" stroke="#ffff00" d="M247.9,61.7 L253.0,101.4 L253.6,106.4 L254.3,111.3 L254.9,116.3 L255.6,121.3 L256.3,126.3 L256.9,131.2 L257.6,136.2 L258.3,141.2 L259.0,146.1 L259.6,151.1 L260.3,156.0 L261.0,161.0 L261.8,166.0 L262.5,170.9 L263.2,175.9 L263.9,180.8 L264.7,185.8 L265.4,190.8 L266.2,195.7 L266.9,200.7 L267.7,205.6 L268.4,210.6 L269.2,215.5 L270.0,220.5 L270.8,225.4 L271.6,230.4 L272.4,235.3 L273.2,240.3 L274.0,245.2 L274.8,250.2 L275.6,255.1 L276.5,260.0 L277.3,265.0 L278.2,269.9 L279.0,274.9 L279.9,279.8 L280.7,284.7 L281.6,289.7 L282.5,294.6 L283.4,299.5 L284.3,304.5 L285.2,309.4 L286.1,314.3 L287.0,319.2 L287.9,324.2 L288.9,329.1 L289.8,334.0 L290.8,338.9 L291.7,343.9 L292.7,348.8 L293.6,353.7 L294.6,358.6 L295.6,363.5 L296.6,368.4 L297.6,373.3 L298.6,378.2 L299.6,383.2 L300.6,388.1 L301.7,393.0 L302.7,397.9 L303.7,402.8 L304.8,407.7 L305.8,412.6 L306.9,417.5 L308.0,422.4 L309.1,427.3 L310.1,432.2 L311.2,437.0 L312.3,441.9 L313.5,446.8 L314.6,451.7 L315.7,456.6 L316.8,461.5 L318.0,466.3 L319.1,471.2 L320.3,476.1 L321.5,481.0 L322.6,485.8 L323.8,490.7 L325.0,495.6 L326.2,500.4 L327.4,505.3 L328.6,510.2 L329.9,515.0 L331.1,519.9 L332.3,524.7 L333.6,529.6 L334.8,534.4 L336.1,539.3 L337.4,544.1 L338.7,549.0 L340.0,553.8 L341.3,558.7 L342.6,563.5 L343.9,568.3 L345.2,573.2 L346.5,578.0 L347.9,582.8 L349.2,587.7 L350.6,592.5 L352.0,597.3 L353.3,602.1 L354.7,606.9 L356.1,611.7 L357.5,616.6 L358.9,621.4 L360.4,626.2 L361.8,631.0 L363.2,635.8 L364.7,640.6 L366.1,645.4 L367.6,650.2 L369.1,654.9 L370.6,659.7 L372.1,664.5 L373.6,669.3 L375.1,674.1 L376.6,678.9 L378.1,683.6 L379.7,688.4 L381.2,693.2 L382.8,697.9 L384.3,702.7 L385.9,707.4 L387.5,712.2 L389.1,716.9 L390.7,721.7 L392.3,726.4 L394.0,731.2 L395.6,735.9 L397.2,740.6 L398.9,745.4 L400.6,750.1 L402.2,754.8 L403.9,759.5 L405.6,764.3 L407.3,769.0 L409.0,773.7 L410.7,778.4 L412.5,783.1 L414.2,787.8 L416.0,792.5 L417.7,797.2 L419.5,801.9 L421.3,806.5 L423.1,811.2 L424.9,815.9 L426.7,820.6 L428.5,825.2 L430.4,829.9 L432.2,834.6 L434.1,839.2 L435.9,843.9 L437.8,848.5 L439.7,853.2 L441.6,857.8 L443.5,862.4 L445.4,867.1 L447.3,871.7 L449.3,876.3 L451.2,880.9 L453.2,885.5 L455.1,890.1 L457.1,894.8 L459.1,899.4 L461.1,903.9 L463.1,908.5 L465.2,913.1 L467.2,917.7 L469.2,922.3 L471.3,926.8 L473.4,931.4 L475.4,936.0 L477.5,940.5 L479.6,945.1 L481.7,949.6 L483.8,954.2 L486.0,958.7 L488.1,963.2 L490.3,967.8 L492.4,972.3 L494.6,976.8 L496.8,981.3 L499.0,985.8 L501.2,990.3 L503.4,994.8 L505.7,999.3 L507.9,1003.8 L510.2,1008.2 L512.4,1012.7 L514.7,1017.2 L517.0,1021.6 L519.3,1026.1 L521.6,1030.5 L523.9,1035.0 L526.2,1039.4 L528.6,1043.8 L530.9,1048.3 L533.3,1052.7 L535.7,1057.1 L538.1,1061.5 L540.5,1065.9 L542.9,1070.3 L545.3,1074.7 L547.8,1079.1 L550.2,1083.4 L552.7,1087.8 L555.1,1092.1 L557.6,1096.5 L560.1,1100.8 L562.6,1105.2 L565.1,1109.5 L567.7,1113.8 L570.2,1118.2 L572.8,1122.5 L575.3,1126.8 L577.9,1131.1 L580.5,1135.4 L583.1,1139.7 L585.7,1143.9 L588.3,1148.2 L591.0,1152.5 L593.6,1156.7 L596.3,1161.0 L598.9,1165.2 L601.6,1169.5 L604.3,1173.7 L607.0,1177.9 L609.7,1182.1 L612.4,1186.3 L615.2,1190.5 L617.9,1194.7 L620.7,1198.9 L623.4,1203.1 L626.2,1207.2 L629.0,1211.4 L631.8,1215.6 L634.6,1219.7 L637.4,1223.9 L640.3,1228.0 L643.1,1232.1 L646.0,1236.2 L648.8,1240.3 L651.7,1244.4 L654.6,1248.5 L657.5,1252.6 L660.4,1256.7 L663.3,1260.8 L666.3,1264.8 L669.2,1268.9 L672.2,1273.0 L675.1,1277.0 L678.1,1281.0 L681.1,1285.1 L684.1,1289.1 L687.1,1293.1 L690.1,1297.1 L693.1,1301.1 L696.2,1305.1 L699.2,1309.1 L702.3,1313.0 L705.3,1317.0 L708.4,1320.9 L711.5,1324.9 L714.6,1328.8 L717.7,1332.8 L720.8,1336.7 L723.9,1340.6 L727.1,1344.5 L730.2,1348.4 L733.4,1352.3 L736.6,1356.2 L739.7,1360.0 L742.9,1363.9 L746.1,1367.8 L749.3,1371.6 L752.6,1375.5 L755.8,1379.3 L759.0,1383.1 L762.3,1386.9 L765.5,1390.7 L768.8,1394.5 L772.1,1398.3 L775.4,1402.1 L778.7,1405.9 L782.0,1409.7 L785.3,1413.4 L788.6,1417.2 L791.9,1420.9 L795.3,1424.6 L798.6,1428.4 L802.0,1432.1 L805.4,1435.8 L808.8,1439.5 L812.2,1443.2 L815.6,1446.8 L819.0,1450.5 L822.4,1454.2 L825.8,1457.8 L829.3,1461.5 L832.7,1465.1 L836.2,1468.7 L839.6,1472.3 L843.1,1475.9 L846.6,1479.5 L850.1,1483.1 L853.6,1486.7 L857.1,1490.3 L860.7,1493.9 L864.2,1497.4 L867.7,1501.0 L871.3,1504.5 L874.8,1508.0 L878.4,1511.5 L882.0,1515.0 L885.6,1518.5 L889.2,1522.0 L892.8,1525.5 L896.4,1529.0 L900.0,1532.4 L903.6,1535.9 L907.3,1539.3 L910.9,1542.8 L914.6,1546.2 L918.3,1549.6 L921.9,1553.0 L925.6,1556.4 L929.3,1559.8 L933.0,1563.2 L936.7,1566.6 L940.4,1569.9 L944.2,1573.3 L947.9,1576.6 L951.6,1579.9 L955.4,1583.3 L959.2,1586.6 L962.9,1589.9 L966.7,1593.2 L970.5,1596.5 L974.3,1599.7 L978.1,1603.0 L981.9,1606.2 L985.7,1609.5 L989.5,1612.7 L993.4,1615.9 L997.2,1619.2 L1001.1,1622.4 L1004.9,1625.6 L1008.8,1628.7 L1012.7,1631.9 L1016.6,1635.1 L1020.5,1638.2 L1024.4,1641.4 L1028.3,1644.5 L1032.2,1647.6 L1036.1,1650.8 L1040.1,1653.9 L1044.0,1657.0 L1047.9,1660.0 L1051.9,1663.1 L1055.9,1666.2 L1059.8,1669.2 L1063.8,1672.3 L1067.8,1675.3 L1071.8,1678.3 L1075.8,1681.4 L1079.8,1684.4 L1083.8,1687.4 L1087.9,1690.3 L1091.9,1693.3 L1095.9,1696.3 L1100.0,1699.2 L1104.0,1702.2 L1108.1,1705.1 L1112.2,1708.0 L1116.3,1710.9 L1119.4,1714.6 L1123.7,1717.6 L1128.1,1720.3 L1132.7,1722.8 L1137.3,1725.1 L1142.0,1727.2 L1146.8,1729.2 L1151.7,1730.9 L1156.6,1732.6 L1161.5,1734.1 L1166.5,1735.5 L1171.5,1736.8 L1176.5,1738.1 L1181.6,1739.2 L1186.6,1740.4 L1191.7,1741.5 L1196.8,1742.5 L1201.8,1743.6 L1206.9,1744.7 L1212.0,1745.8 L2240.0,1745.7 L2306.5,1743.5"/>
<path class="c" stroke="#ff00ff" stroke-dasharray="45.6 43.8" d="M1246.6,1618.5H2302"/>
</g>
<g class="tk" text-anchor="middle">
<text transform="translate(151.8,2108) scale(1,1.02)">0</text>
<text transform="translate(368.8,2108) scale(1,1.02)">0.02</text>
<text transform="translate(585.9,2108) scale(1,1.02)">0.04</text>
<text transform="translate(802.9,2108) scale(1,1.02)">0.06</text>
<text transform="translate(1020.0,2108) scale(1,1.02)">0.08</text>
<text transform="translate(1237.0,2108) scale(1,1.02)">0.1</text>
<text transform="translate(1454.1,2108) scale(1,1.02)">0.12</text>
<text transform="translate(1671.2,2108) scale(1,1.02)">0.14</text>
<text transform="translate(1888.2,2108) scale(1,1.02)">0.16</text>
<text transform="translate(2105.2,2108) scale(1,1.02)">0.18</text>
<text transform="translate(2322.3,2108) scale(1,1.02)">0.2</text>
</g>
<g class="tk" text-anchor="end">
<text transform="translate(139.5,2075.3) scale(1,1.02)">1</text>
<text transform="translate(139.5,1879.2) scale(1,1.02)">1.1</text>
<text transform="translate(139.5,1683.2) scale(1,1.02)">1.2</text>
<text transform="translate(139.5,1487.1) scale(1,1.02)">1.3</text>
<text transform="translate(139.5,1291.0) scale(1,1.02)">1.4</text>
<text transform="translate(139.5,1095.0) scale(1,1.02)">1.5</text>
<text transform="translate(139.5,898.9) scale(1,1.02)">1.6</text>
<text transform="translate(139.5,702.8) scale(1,1.02)">1.7</text>
<text transform="translate(139.5,506.7) scale(1,1.02)">1.8</text>
<text transform="translate(139.5,310.7) scale(1,1.02)">1.9</text>
<text transform="translate(139.5,114.6) scale(1,1.02)">2</text>
</g>
<text class="lb" text-anchor="middle" x="1238.2" y="61">D<tspan font-size="40" dy="23.5">1</tspan><tspan dy="-23.5">=0.2</tspan></text>
<text class="lb" text-anchor="middle" x="1238.2" y="2170">D<tspan font-size="42" dx="0.5" dy="24.3">2</tspan></text>
<text class="lb" text-anchor="middle" transform="translate(52,1080.5) rotate(-90)">R+R<tspan font-size="40" dy="25">r</tspan></text>
<rect x="1261" y="132.6" width="1031.4" height="523.6" fill="#ffffff" stroke="#262626" stroke-width="2.8"/>
<g shape-rendering="crispEdges">
<rect x="1270.2" y="162.8" width="45.8" height="13" fill="#00ffff"/>
<rect x="1270.2" y="227.2" width="70.9" height="13" fill="#ff0000"/>
<rect x="1270.2" y="291.6" width="45.8" height="13" fill="#00ff00"/>
<rect x="1270.2" y="356.0" width="45.8" height="13" fill="#000000"/>
<rect x="1270.2" y="420.4" width="70.9" height="13" fill="#0000ff"/>
<rect x="1270.2" y="484.8" width="70.9" height="13" fill="#ff00ff"/>
<rect x="1270.2" y="549.1" width="70.9" height="13" fill="#ffff00"/>
<rect x="1270.2" y="613.5" width="45.8" height="13" fill="#ff00ff"/>
</g>
<g class="lg">
<text x="1347.1" y="189.2">2 nodes EC</text>
<text x="1347.1" y="253.6">3 nodes PRP</text>
<text x="1347.1" y="318.0">3 nodes modfied PRP</text>
<text x="1347.1" y="382.4">3 nodes with repair, no common message</text>
<text x="1347.1" y="446.8">3 nodes with repair, common message</text>
<text x="1347.1" y="511.1">4 nodes with repair, common message</text>
<text x="1347.1" y="575.5">4 nodes modified PRP</text>
<text x="1347.1" y="639.9">4 nodes with repair, no common message</text>
</g>
</svg></body></html>
